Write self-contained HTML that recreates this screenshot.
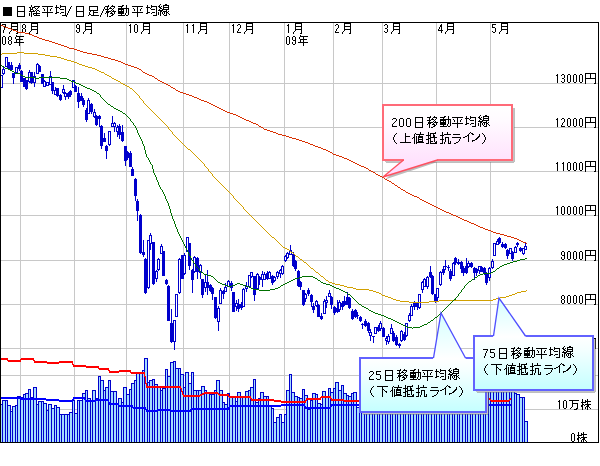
<!DOCTYPE html>
<html><head><meta charset="utf-8"><style>html,body{margin:0;padding:0;background:#fff;width:600px;height:466px;overflow:hidden;font-family:"Liberation Sans",sans-serif}svg{display:block}</style></head>
<body><svg width="600" height="466" viewBox="0 0 600 466" shape-rendering="crispEdges">
<defs>
<linearGradient id="gp" x1="0" y1="0" x2="0" y2="1"><stop offset="0" stop-color="#ffffff"/><stop offset="0.22" stop-color="#fffaff"/><stop offset="1" stop-color="#ffd8fc"/></linearGradient>
<linearGradient id="gb" x1="0" y1="0" x2="0" y2="1"><stop offset="0" stop-color="#ffffff"/><stop offset="0.25" stop-color="#f4ffff"/><stop offset="1" stop-color="#c4ffff"/></linearGradient>
<linearGradient id="gt" x1="0" y1="0" x2="0" y2="1"><stop offset="0" stop-color="#d4ffff"/><stop offset="1" stop-color="#ffffff"/></linearGradient>
</defs>
<rect width="600" height="466" fill="#fff"/>
<path fill="#c8c8c8" d="M20 23h1v419h-1zM74 23h1v419h-1zM126 23h1v419h-1zM183 23h1v419h-1zM229 23h1v419h-1zM284 23h1v419h-1zM333 23h1v419h-1zM382 23h1v419h-1zM436 23h1v419h-1zM490 23h1v419h-1zM1 83h597v1h-597zM1 127h597v1h-597zM1 171h597v1h-597zM1 215h597v1h-597zM1 260h597v1h-597zM1 304h597v1h-597zM1 348h597v1h-597zM1 375h597v1h-597zM1 409h597v1h-597z"/><path fill="#000" d="M11 23h7v1h-7zM31 23h7v1h-7zM85 23h7v1h-7zM143 23h7v1h-7zM200 23h7v1h-7zM246 23h7v1h-7zM295 23h7v1h-7zM344 23h7v1h-7zM393 23h7v1h-7zM447 23h7v1h-7zM501 23h7v1h-7zM2 24h4v1h-4zM11 24h1v1h-1zM17 24h1v1h-1zM23 24h2v1h-2zM31 24h1v1h-1zM37 24h1v1h-1zM77 24h2v1h-2zM85 24h1v1h-1zM91 24h1v1h-1zM130 24h1v1h-1zM135 24h2v1h-2zM143 24h1v1h-1zM149 24h1v1h-1zM187 24h1v1h-1zM193 24h1v1h-1zM200 24h1v1h-1zM206 24h1v1h-1zM233 24h1v1h-1zM238 24h2v1h-2zM246 24h1v1h-1zM252 24h1v1h-1zM288 24h1v1h-1zM295 24h1v1h-1zM301 24h1v1h-1zM336 24h2v1h-2zM344 24h1v1h-1zM350 24h1v1h-1zM385 24h2v1h-2zM393 24h1v1h-1zM399 24h1v1h-1zM441 24h1v1h-1zM447 24h1v1h-1zM453 24h1v1h-1zM492 24h4v1h-4zM501 24h1v1h-1zM507 24h1v1h-1zM5 25h1v1h-1zM11 25h1v1h-1zM17 25h1v1h-1zM22 25h1v1h-1zM25 25h1v1h-1zM31 25h1v1h-1zM37 25h1v1h-1zM76 25h1v1h-1zM79 25h1v1h-1zM85 25h1v1h-1zM91 25h1v1h-1zM129 25h2v1h-2zM134 25h1v1h-1zM137 25h1v1h-1zM143 25h1v1h-1zM149 25h1v1h-1zM186 25h2v1h-2zM192 25h2v1h-2zM200 25h1v1h-1zM206 25h1v1h-1zM232 25h2v1h-2zM237 25h1v1h-1zM240 25h1v1h-1zM246 25h1v1h-1zM252 25h1v1h-1zM287 25h2v1h-2zM295 25h1v1h-1zM301 25h1v1h-1zM335 25h1v1h-1zM338 25h1v1h-1zM344 25h1v1h-1zM350 25h1v1h-1zM384 25h1v1h-1zM387 25h1v1h-1zM393 25h1v1h-1zM399 25h1v1h-1zM440 25h2v1h-2zM447 25h1v1h-1zM453 25h1v1h-1zM492 25h1v1h-1zM501 25h1v1h-1zM507 25h1v1h-1zM5 26h1v1h-1zM11 26h7v1h-7zM22 26h1v1h-1zM25 26h1v1h-1zM31 26h7v1h-7zM76 26h1v1h-1zM79 26h1v1h-1zM85 26h7v1h-7zM130 26h1v1h-1zM134 26h1v1h-1zM137 26h1v1h-1zM143 26h7v1h-7zM187 26h1v1h-1zM193 26h1v1h-1zM200 26h7v1h-7zM233 26h1v1h-1zM240 26h1v1h-1zM246 26h7v1h-7zM288 26h1v1h-1zM295 26h7v1h-7zM338 26h1v1h-1zM344 26h7v1h-7zM387 26h1v1h-1zM393 26h7v1h-7zM440 26h2v1h-2zM447 26h7v1h-7zM492 26h1v1h-1zM501 26h7v1h-7zM4 27h1v1h-1zM11 27h1v1h-1zM17 27h1v1h-1zM22 27h1v1h-1zM25 27h1v1h-1zM31 27h1v1h-1zM37 27h1v1h-1zM76 27h1v1h-1zM79 27h1v1h-1zM85 27h1v1h-1zM91 27h1v1h-1zM130 27h1v1h-1zM134 27h1v1h-1zM137 27h1v1h-1zM143 27h1v1h-1zM149 27h1v1h-1zM187 27h1v1h-1zM193 27h1v1h-1zM200 27h1v1h-1zM206 27h1v1h-1zM233 27h1v1h-1zM240 27h1v1h-1zM246 27h1v1h-1zM252 27h1v1h-1zM288 27h1v1h-1zM295 27h1v1h-1zM301 27h1v1h-1zM338 27h1v1h-1zM344 27h1v1h-1zM350 27h1v1h-1zM387 27h1v1h-1zM393 27h1v1h-1zM399 27h1v1h-1zM439 27h1v1h-1zM441 27h1v1h-1zM447 27h1v1h-1zM453 27h1v1h-1zM492 27h3v1h-3zM501 27h1v1h-1zM507 27h1v1h-1zM4 28h1v1h-1zM11 28h1v1h-1zM17 28h1v1h-1zM23 28h2v1h-2zM31 28h1v1h-1zM37 28h1v1h-1zM77 28h3v1h-3zM85 28h1v1h-1zM91 28h1v1h-1zM130 28h1v1h-1zM134 28h1v1h-1zM137 28h1v1h-1zM143 28h1v1h-1zM149 28h1v1h-1zM187 28h1v1h-1zM193 28h1v1h-1zM200 28h1v1h-1zM206 28h1v1h-1zM233 28h1v1h-1zM239 28h1v1h-1zM246 28h1v1h-1zM252 28h1v1h-1zM288 28h1v1h-1zM295 28h1v1h-1zM301 28h1v1h-1zM337 28h1v1h-1zM344 28h1v1h-1zM350 28h1v1h-1zM385 28h2v1h-2zM393 28h1v1h-1zM399 28h1v1h-1zM439 28h1v1h-1zM441 28h1v1h-1zM447 28h1v1h-1zM453 28h1v1h-1zM495 28h1v1h-1zM501 28h1v1h-1zM507 28h1v1h-1zM4 29h1v1h-1zM11 29h7v1h-7zM22 29h1v1h-1zM25 29h1v1h-1zM31 29h7v1h-7zM79 29h1v1h-1zM85 29h7v1h-7zM130 29h1v1h-1zM134 29h1v1h-1zM137 29h1v1h-1zM143 29h7v1h-7zM187 29h1v1h-1zM193 29h1v1h-1zM200 29h7v1h-7zM233 29h1v1h-1zM238 29h1v1h-1zM246 29h7v1h-7zM288 29h1v1h-1zM295 29h7v1h-7zM336 29h1v1h-1zM344 29h7v1h-7zM387 29h1v1h-1zM393 29h7v1h-7zM438 29h1v1h-1zM441 29h1v1h-1zM447 29h7v1h-7zM495 29h1v1h-1zM501 29h7v1h-7zM3 30h1v1h-1zM11 30h1v1h-1zM17 30h1v1h-1zM22 30h1v1h-1zM25 30h1v1h-1zM31 30h1v1h-1zM37 30h1v1h-1zM76 30h1v1h-1zM79 30h1v1h-1zM85 30h1v1h-1zM91 30h1v1h-1zM130 30h1v1h-1zM134 30h1v1h-1zM137 30h1v1h-1zM143 30h1v1h-1zM149 30h1v1h-1zM187 30h1v1h-1zM193 30h1v1h-1zM200 30h1v1h-1zM206 30h1v1h-1zM233 30h1v1h-1zM238 30h1v1h-1zM246 30h1v1h-1zM252 30h1v1h-1zM288 30h1v1h-1zM295 30h1v1h-1zM301 30h1v1h-1zM336 30h1v1h-1zM344 30h1v1h-1zM350 30h1v1h-1zM387 30h1v1h-1zM393 30h1v1h-1zM399 30h1v1h-1zM438 30h5v1h-5zM447 30h1v1h-1zM453 30h1v1h-1zM495 30h1v1h-1zM501 30h1v1h-1zM507 30h1v1h-1zM3 31h1v1h-1zM10 31h1v1h-1zM17 31h1v1h-1zM22 31h1v1h-1zM25 31h1v1h-1zM30 31h1v1h-1zM37 31h1v1h-1zM76 31h1v1h-1zM79 31h1v1h-1zM84 31h1v1h-1zM91 31h1v1h-1zM130 31h1v1h-1zM134 31h1v1h-1zM137 31h1v1h-1zM142 31h1v1h-1zM149 31h1v1h-1zM187 31h1v1h-1zM193 31h1v1h-1zM199 31h1v1h-1zM206 31h1v1h-1zM233 31h1v1h-1zM237 31h1v1h-1zM245 31h1v1h-1zM252 31h1v1h-1zM288 31h1v1h-1zM294 31h1v1h-1zM301 31h1v1h-1zM335 31h1v1h-1zM343 31h1v1h-1zM350 31h1v1h-1zM384 31h1v1h-1zM387 31h1v1h-1zM392 31h1v1h-1zM399 31h1v1h-1zM441 31h1v1h-1zM446 31h1v1h-1zM453 31h1v1h-1zM492 31h1v1h-1zM495 31h1v1h-1zM500 31h1v1h-1zM507 31h1v1h-1zM3 32h1v1h-1zM9 32h1v1h-1zM17 32h1v1h-1zM23 32h2v1h-2zM29 32h1v1h-1zM37 32h1v1h-1zM77 32h2v1h-2zM83 32h1v1h-1zM91 32h1v1h-1zM130 32h1v1h-1zM135 32h2v1h-2zM141 32h1v1h-1zM149 32h1v1h-1zM187 32h1v1h-1zM193 32h1v1h-1zM198 32h1v1h-1zM206 32h1v1h-1zM233 32h1v1h-1zM237 32h4v1h-4zM244 32h1v1h-1zM252 32h1v1h-1zM288 32h1v1h-1zM293 32h1v1h-1zM301 32h1v1h-1zM335 32h4v1h-4zM342 32h1v1h-1zM350 32h1v1h-1zM385 32h2v1h-2zM391 32h1v1h-1zM399 32h1v1h-1zM441 32h1v1h-1zM445 32h1v1h-1zM453 32h1v1h-1zM493 32h2v1h-2zM499 32h1v1h-1zM507 32h1v1h-1zM9 33h1v1h-1zM16 33h2v1h-2zM29 33h1v1h-1zM36 33h2v1h-2zM83 33h1v1h-1zM90 33h2v1h-2zM141 33h1v1h-1zM148 33h2v1h-2zM198 33h1v1h-1zM205 33h2v1h-2zM244 33h1v1h-1zM251 33h2v1h-2zM293 33h1v1h-1zM300 33h2v1h-2zM342 33h1v1h-1zM349 33h2v1h-2zM391 33h1v1h-1zM398 33h2v1h-2zM445 33h1v1h-1zM452 33h2v1h-2zM499 33h1v1h-1zM506 33h2v1h-2zM16 35h1v1h-1zM300 35h1v1h-1zM3 36h2v1h-2zM9 36h2v1h-2zM16 36h8v1h-8zM287 36h2v1h-2zM293 36h2v1h-2zM300 36h8v1h-8zM2 37h1v1h-1zM5 37h1v1h-1zM8 37h1v1h-1zM11 37h1v1h-1zM15 37h1v1h-1zM19 37h1v1h-1zM286 37h1v1h-1zM289 37h1v1h-1zM292 37h1v1h-1zM295 37h1v1h-1zM299 37h1v1h-1zM303 37h1v1h-1zM2 38h1v1h-1zM5 38h1v1h-1zM8 38h1v1h-1zM11 38h1v1h-1zM15 38h1v1h-1zM19 38h1v1h-1zM286 38h1v1h-1zM289 38h1v1h-1zM292 38h1v1h-1zM295 38h1v1h-1zM299 38h1v1h-1zM303 38h1v1h-1zM2 39h1v1h-1zM5 39h1v1h-1zM8 39h1v1h-1zM11 39h1v1h-1zM16 39h7v1h-7zM286 39h1v1h-1zM289 39h1v1h-1zM292 39h1v1h-1zM295 39h1v1h-1zM300 39h7v1h-7zM2 40h1v1h-1zM5 40h1v1h-1zM9 40h2v1h-2zM16 40h1v1h-1zM19 40h1v1h-1zM286 40h1v1h-1zM289 40h1v1h-1zM293 40h3v1h-3zM300 40h1v1h-1zM303 40h1v1h-1zM2 41h1v1h-1zM5 41h1v1h-1zM8 41h1v1h-1zM11 41h1v1h-1zM16 41h1v1h-1zM19 41h1v1h-1zM286 41h1v1h-1zM289 41h1v1h-1zM295 41h1v1h-1zM300 41h1v1h-1zM303 41h1v1h-1zM2 42h1v1h-1zM5 42h1v1h-1zM8 42h1v1h-1zM11 42h1v1h-1zM14 42h10v1h-10zM286 42h1v1h-1zM289 42h1v1h-1zM292 42h1v1h-1zM295 42h1v1h-1zM298 42h10v1h-10zM2 43h1v1h-1zM5 43h1v1h-1zM8 43h1v1h-1zM11 43h1v1h-1zM19 43h1v1h-1zM286 43h1v1h-1zM289 43h1v1h-1zM292 43h1v1h-1zM295 43h1v1h-1zM303 43h1v1h-1zM3 44h2v1h-2zM9 44h2v1h-2zM19 44h1v1h-1zM287 44h2v1h-2zM293 44h2v1h-2zM303 44h1v1h-1zM19 45h1v1h-1zM303 45h1v1h-1zM585 73h11v1h-11zM557 74h1v1h-1zM562 74h2v1h-2zM568 74h2v1h-2zM574 74h2v1h-2zM580 74h2v1h-2zM585 74h1v1h-1zM590 74h1v1h-1zM595 74h1v1h-1zM556 75h2v1h-2zM561 75h1v1h-1zM564 75h1v1h-1zM567 75h1v1h-1zM570 75h1v1h-1zM573 75h1v1h-1zM576 75h1v1h-1zM579 75h1v1h-1zM582 75h1v1h-1zM585 75h1v1h-1zM590 75h1v1h-1zM595 75h1v1h-1zM557 76h1v1h-1zM564 76h1v1h-1zM567 76h1v1h-1zM570 76h1v1h-1zM573 76h1v1h-1zM576 76h1v1h-1zM579 76h1v1h-1zM582 76h1v1h-1zM585 76h1v1h-1zM590 76h1v1h-1zM595 76h1v1h-1zM557 77h1v1h-1zM564 77h1v1h-1zM567 77h1v1h-1zM570 77h1v1h-1zM573 77h1v1h-1zM576 77h1v1h-1zM579 77h1v1h-1zM582 77h1v1h-1zM585 77h1v1h-1zM590 77h1v1h-1zM595 77h1v1h-1zM557 78h1v1h-1zM562 78h2v1h-2zM567 78h1v1h-1zM570 78h1v1h-1zM573 78h1v1h-1zM576 78h1v1h-1zM579 78h1v1h-1zM582 78h1v1h-1zM585 78h11v1h-11zM557 79h1v1h-1zM564 79h1v1h-1zM567 79h1v1h-1zM570 79h1v1h-1zM573 79h1v1h-1zM576 79h1v1h-1zM579 79h1v1h-1zM582 79h1v1h-1zM585 79h1v1h-1zM595 79h1v1h-1zM557 80h1v1h-1zM564 80h1v1h-1zM567 80h1v1h-1zM570 80h1v1h-1zM573 80h1v1h-1zM576 80h1v1h-1zM579 80h1v1h-1zM582 80h1v1h-1zM585 80h1v1h-1zM595 80h1v1h-1zM557 81h1v1h-1zM561 81h1v1h-1zM564 81h1v1h-1zM567 81h1v1h-1zM570 81h1v1h-1zM573 81h1v1h-1zM576 81h1v1h-1zM579 81h1v1h-1zM582 81h1v1h-1zM585 81h1v1h-1zM595 81h1v1h-1zM557 82h1v1h-1zM562 82h2v1h-2zM568 82h2v1h-2zM574 82h2v1h-2zM580 82h2v1h-2zM585 82h1v1h-1zM595 82h1v1h-1zM585 83h1v1h-1zM594 83h2v1h-2zM585 117h11v1h-11zM557 118h1v1h-1zM562 118h2v1h-2zM568 118h2v1h-2zM574 118h2v1h-2zM580 118h2v1h-2zM585 118h1v1h-1zM590 118h1v1h-1zM595 118h1v1h-1zM556 119h2v1h-2zM561 119h1v1h-1zM564 119h1v1h-1zM567 119h1v1h-1zM570 119h1v1h-1zM573 119h1v1h-1zM576 119h1v1h-1zM579 119h1v1h-1zM582 119h1v1h-1zM585 119h1v1h-1zM590 119h1v1h-1zM595 119h1v1h-1zM557 120h1v1h-1zM564 120h1v1h-1zM567 120h1v1h-1zM570 120h1v1h-1zM573 120h1v1h-1zM576 120h1v1h-1zM579 120h1v1h-1zM582 120h1v1h-1zM585 120h1v1h-1zM590 120h1v1h-1zM595 120h1v1h-1zM557 121h1v1h-1zM564 121h1v1h-1zM567 121h1v1h-1zM570 121h1v1h-1zM573 121h1v1h-1zM576 121h1v1h-1zM579 121h1v1h-1zM582 121h1v1h-1zM585 121h1v1h-1zM590 121h1v1h-1zM595 121h1v1h-1zM557 122h1v1h-1zM563 122h1v1h-1zM567 122h1v1h-1zM570 122h1v1h-1zM573 122h1v1h-1zM576 122h1v1h-1zM579 122h1v1h-1zM582 122h1v1h-1zM585 122h11v1h-11zM557 123h1v1h-1zM562 123h1v1h-1zM567 123h1v1h-1zM570 123h1v1h-1zM573 123h1v1h-1zM576 123h1v1h-1zM579 123h1v1h-1zM582 123h1v1h-1zM585 123h1v1h-1zM595 123h1v1h-1zM557 124h1v1h-1zM562 124h1v1h-1zM567 124h1v1h-1zM570 124h1v1h-1zM573 124h1v1h-1zM576 124h1v1h-1zM579 124h1v1h-1zM582 124h1v1h-1zM585 124h1v1h-1zM595 124h1v1h-1zM557 125h1v1h-1zM561 125h1v1h-1zM567 125h1v1h-1zM570 125h1v1h-1zM573 125h1v1h-1zM576 125h1v1h-1zM579 125h1v1h-1zM582 125h1v1h-1zM585 125h1v1h-1zM595 125h1v1h-1zM557 126h1v1h-1zM561 126h4v1h-4zM568 126h2v1h-2zM574 126h2v1h-2zM580 126h2v1h-2zM585 126h1v1h-1zM595 126h1v1h-1zM585 127h1v1h-1zM594 127h2v1h-2zM585 161h11v1h-11zM557 162h1v1h-1zM563 162h1v1h-1zM568 162h2v1h-2zM574 162h2v1h-2zM580 162h2v1h-2zM585 162h1v1h-1zM590 162h1v1h-1zM595 162h1v1h-1zM556 163h2v1h-2zM562 163h2v1h-2zM567 163h1v1h-1zM570 163h1v1h-1zM573 163h1v1h-1zM576 163h1v1h-1zM579 163h1v1h-1zM582 163h1v1h-1zM585 163h1v1h-1zM590 163h1v1h-1zM595 163h1v1h-1zM557 164h1v1h-1zM563 164h1v1h-1zM567 164h1v1h-1zM570 164h1v1h-1zM573 164h1v1h-1zM576 164h1v1h-1zM579 164h1v1h-1zM582 164h1v1h-1zM585 164h1v1h-1zM590 164h1v1h-1zM595 164h1v1h-1zM557 165h1v1h-1zM563 165h1v1h-1zM567 165h1v1h-1zM570 165h1v1h-1zM573 165h1v1h-1zM576 165h1v1h-1zM579 165h1v1h-1zM582 165h1v1h-1zM585 165h1v1h-1zM590 165h1v1h-1zM595 165h1v1h-1zM557 166h1v1h-1zM563 166h1v1h-1zM567 166h1v1h-1zM570 166h1v1h-1zM573 166h1v1h-1zM576 166h1v1h-1zM579 166h1v1h-1zM582 166h1v1h-1zM585 166h11v1h-11zM557 167h1v1h-1zM563 167h1v1h-1zM567 167h1v1h-1zM570 167h1v1h-1zM573 167h1v1h-1zM576 167h1v1h-1zM579 167h1v1h-1zM582 167h1v1h-1zM585 167h1v1h-1zM595 167h1v1h-1zM557 168h1v1h-1zM563 168h1v1h-1zM567 168h1v1h-1zM570 168h1v1h-1zM573 168h1v1h-1zM576 168h1v1h-1zM579 168h1v1h-1zM582 168h1v1h-1zM585 168h1v1h-1zM595 168h1v1h-1zM557 169h1v1h-1zM563 169h1v1h-1zM567 169h1v1h-1zM570 169h1v1h-1zM573 169h1v1h-1zM576 169h1v1h-1zM579 169h1v1h-1zM582 169h1v1h-1zM585 169h1v1h-1zM595 169h1v1h-1zM557 170h1v1h-1zM563 170h1v1h-1zM568 170h2v1h-2zM574 170h2v1h-2zM580 170h2v1h-2zM585 170h1v1h-1zM595 170h1v1h-1zM585 171h1v1h-1zM594 171h2v1h-2zM585 205h11v1h-11zM557 206h1v1h-1zM562 206h2v1h-2zM568 206h2v1h-2zM574 206h2v1h-2zM580 206h2v1h-2zM585 206h1v1h-1zM590 206h1v1h-1zM595 206h1v1h-1zM556 207h2v1h-2zM561 207h1v1h-1zM564 207h1v1h-1zM567 207h1v1h-1zM570 207h1v1h-1zM573 207h1v1h-1zM576 207h1v1h-1zM579 207h1v1h-1zM582 207h1v1h-1zM585 207h1v1h-1zM590 207h1v1h-1zM595 207h1v1h-1zM557 208h1v1h-1zM561 208h1v1h-1zM564 208h1v1h-1zM567 208h1v1h-1zM570 208h1v1h-1zM573 208h1v1h-1zM576 208h1v1h-1zM579 208h1v1h-1zM582 208h1v1h-1zM585 208h1v1h-1zM590 208h1v1h-1zM595 208h1v1h-1zM557 209h1v1h-1zM561 209h1v1h-1zM564 209h1v1h-1zM567 209h1v1h-1zM570 209h1v1h-1zM573 209h1v1h-1zM576 209h1v1h-1zM579 209h1v1h-1zM582 209h1v1h-1zM585 209h1v1h-1zM590 209h1v1h-1zM595 209h1v1h-1zM557 210h1v1h-1zM561 210h1v1h-1zM564 210h1v1h-1zM567 210h1v1h-1zM570 210h1v1h-1zM573 210h1v1h-1zM576 210h1v1h-1zM579 210h1v1h-1zM582 210h1v1h-1zM585 210h11v1h-11zM557 211h1v1h-1zM561 211h1v1h-1zM564 211h1v1h-1zM567 211h1v1h-1zM570 211h1v1h-1zM573 211h1v1h-1zM576 211h1v1h-1zM579 211h1v1h-1zM582 211h1v1h-1zM585 211h1v1h-1zM595 211h1v1h-1zM557 212h1v1h-1zM561 212h1v1h-1zM564 212h1v1h-1zM567 212h1v1h-1zM570 212h1v1h-1zM573 212h1v1h-1zM576 212h1v1h-1zM579 212h1v1h-1zM582 212h1v1h-1zM585 212h1v1h-1zM595 212h1v1h-1zM557 213h1v1h-1zM561 213h1v1h-1zM564 213h1v1h-1zM567 213h1v1h-1zM570 213h1v1h-1zM573 213h1v1h-1zM576 213h1v1h-1zM579 213h1v1h-1zM582 213h1v1h-1zM585 213h1v1h-1zM595 213h1v1h-1zM557 214h1v1h-1zM562 214h2v1h-2zM568 214h2v1h-2zM574 214h2v1h-2zM580 214h2v1h-2zM585 214h1v1h-1zM595 214h1v1h-1zM585 215h1v1h-1zM594 215h2v1h-2zM585 250h11v1h-11zM562 251h2v1h-2zM568 251h2v1h-2zM574 251h2v1h-2zM580 251h2v1h-2zM585 251h1v1h-1zM590 251h1v1h-1zM595 251h1v1h-1zM561 252h1v1h-1zM564 252h1v1h-1zM567 252h1v1h-1zM570 252h1v1h-1zM573 252h1v1h-1zM576 252h1v1h-1zM579 252h1v1h-1zM582 252h1v1h-1zM585 252h1v1h-1zM590 252h1v1h-1zM595 252h1v1h-1zM561 253h1v1h-1zM564 253h1v1h-1zM567 253h1v1h-1zM570 253h1v1h-1zM573 253h1v1h-1zM576 253h1v1h-1zM579 253h1v1h-1zM582 253h1v1h-1zM585 253h1v1h-1zM590 253h1v1h-1zM595 253h1v1h-1zM561 254h1v1h-1zM564 254h1v1h-1zM567 254h1v1h-1zM570 254h1v1h-1zM573 254h1v1h-1zM576 254h1v1h-1zM579 254h1v1h-1zM582 254h1v1h-1zM585 254h1v1h-1zM590 254h1v1h-1zM595 254h1v1h-1zM562 255h3v1h-3zM567 255h1v1h-1zM570 255h1v1h-1zM573 255h1v1h-1zM576 255h1v1h-1zM579 255h1v1h-1zM582 255h1v1h-1zM585 255h11v1h-11zM564 256h1v1h-1zM567 256h1v1h-1zM570 256h1v1h-1zM573 256h1v1h-1zM576 256h1v1h-1zM579 256h1v1h-1zM582 256h1v1h-1zM585 256h1v1h-1zM595 256h1v1h-1zM561 257h1v1h-1zM564 257h1v1h-1zM567 257h1v1h-1zM570 257h1v1h-1zM573 257h1v1h-1zM576 257h1v1h-1zM579 257h1v1h-1zM582 257h1v1h-1zM585 257h1v1h-1zM595 257h1v1h-1zM561 258h1v1h-1zM564 258h1v1h-1zM567 258h1v1h-1zM570 258h1v1h-1zM573 258h1v1h-1zM576 258h1v1h-1zM579 258h1v1h-1zM582 258h1v1h-1zM585 258h1v1h-1zM595 258h1v1h-1zM562 259h2v1h-2zM568 259h2v1h-2zM574 259h2v1h-2zM580 259h2v1h-2zM585 259h1v1h-1zM595 259h1v1h-1zM585 260h1v1h-1zM594 260h2v1h-2zM585 294h11v1h-11zM562 295h2v1h-2zM568 295h2v1h-2zM574 295h2v1h-2zM580 295h2v1h-2zM585 295h1v1h-1zM590 295h1v1h-1zM595 295h1v1h-1zM561 296h1v1h-1zM564 296h1v1h-1zM567 296h1v1h-1zM570 296h1v1h-1zM573 296h1v1h-1zM576 296h1v1h-1zM579 296h1v1h-1zM582 296h1v1h-1zM585 296h1v1h-1zM590 296h1v1h-1zM595 296h1v1h-1zM561 297h1v1h-1zM564 297h1v1h-1zM567 297h1v1h-1zM570 297h1v1h-1zM573 297h1v1h-1zM576 297h1v1h-1zM579 297h1v1h-1zM582 297h1v1h-1zM585 297h1v1h-1zM590 297h1v1h-1zM595 297h1v1h-1zM561 298h1v1h-1zM564 298h1v1h-1zM567 298h1v1h-1zM570 298h1v1h-1zM573 298h1v1h-1zM576 298h1v1h-1zM579 298h1v1h-1zM582 298h1v1h-1zM585 298h1v1h-1zM590 298h1v1h-1zM595 298h1v1h-1zM562 299h2v1h-2zM567 299h1v1h-1zM570 299h1v1h-1zM573 299h1v1h-1zM576 299h1v1h-1zM579 299h1v1h-1zM582 299h1v1h-1zM585 299h11v1h-11zM561 300h1v1h-1zM564 300h1v1h-1zM567 300h1v1h-1zM570 300h1v1h-1zM573 300h1v1h-1zM576 300h1v1h-1zM579 300h1v1h-1zM582 300h1v1h-1zM585 300h1v1h-1zM595 300h1v1h-1zM561 301h1v1h-1zM564 301h1v1h-1zM567 301h1v1h-1zM570 301h1v1h-1zM573 301h1v1h-1zM576 301h1v1h-1zM579 301h1v1h-1zM582 301h1v1h-1zM585 301h1v1h-1zM595 301h1v1h-1zM561 302h1v1h-1zM564 302h1v1h-1zM567 302h1v1h-1zM570 302h1v1h-1zM573 302h1v1h-1zM576 302h1v1h-1zM579 302h1v1h-1zM582 302h1v1h-1zM585 302h1v1h-1zM595 302h1v1h-1zM562 303h2v1h-2zM568 303h2v1h-2zM574 303h2v1h-2zM580 303h2v1h-2zM585 303h1v1h-1zM595 303h1v1h-1zM585 304h1v1h-1zM594 304h2v1h-2zM585 338h11v1h-11zM561 339h4v1h-4zM568 339h2v1h-2zM574 339h2v1h-2zM580 339h2v1h-2zM585 339h1v1h-1zM590 339h1v1h-1zM595 339h1v1h-1zM564 340h1v1h-1zM567 340h1v1h-1zM570 340h1v1h-1zM573 340h1v1h-1zM576 340h1v1h-1zM579 340h1v1h-1zM582 340h1v1h-1zM585 340h1v1h-1zM590 340h1v1h-1zM595 340h1v1h-1zM564 341h1v1h-1zM567 341h1v1h-1zM570 341h1v1h-1zM573 341h1v1h-1zM576 341h1v1h-1zM579 341h1v1h-1zM582 341h1v1h-1zM585 341h1v1h-1zM590 341h1v1h-1zM595 341h1v1h-1zM563 342h1v1h-1zM567 342h1v1h-1zM570 342h1v1h-1zM573 342h1v1h-1zM576 342h1v1h-1zM579 342h1v1h-1zM582 342h1v1h-1zM585 342h1v1h-1zM590 342h1v1h-1zM595 342h1v1h-1zM563 343h1v1h-1zM567 343h1v1h-1zM570 343h1v1h-1zM573 343h1v1h-1zM576 343h1v1h-1zM579 343h1v1h-1zM582 343h1v1h-1zM585 343h11v1h-11zM563 344h1v1h-1zM567 344h1v1h-1zM570 344h1v1h-1zM573 344h1v1h-1zM576 344h1v1h-1zM579 344h1v1h-1zM582 344h1v1h-1zM585 344h1v1h-1zM595 344h1v1h-1zM562 345h1v1h-1zM567 345h1v1h-1zM570 345h1v1h-1zM573 345h1v1h-1zM576 345h1v1h-1zM579 345h1v1h-1zM582 345h1v1h-1zM585 345h1v1h-1zM595 345h1v1h-1zM562 346h1v1h-1zM567 346h1v1h-1zM570 346h1v1h-1zM573 346h1v1h-1zM576 346h1v1h-1zM579 346h1v1h-1zM582 346h1v1h-1zM585 346h1v1h-1zM595 346h1v1h-1zM562 347h1v1h-1zM568 347h2v1h-2zM574 347h2v1h-2zM580 347h2v1h-2zM585 347h1v1h-1zM595 347h1v1h-1zM585 348h1v1h-1zM594 348h2v1h-2zM582 365h1v1h-1zM587 365h1v1h-1zM558 366h2v1h-2zM564 366h2v1h-2zM569 366h10v1h-10zM582 366h1v1h-1zM585 366h1v1h-1zM587 366h1v1h-1zM557 367h1v1h-1zM560 367h1v1h-1zM563 367h1v1h-1zM566 367h1v1h-1zM572 367h1v1h-1zM582 367h1v1h-1zM585 367h6v1h-6zM560 368h1v1h-1zM563 368h1v1h-1zM566 368h1v1h-1zM572 368h1v1h-1zM581 368h5v1h-5zM587 368h1v1h-1zM560 369h1v1h-1zM563 369h1v1h-1zM566 369h1v1h-1zM572 369h6v1h-6zM582 369h1v1h-1zM587 369h1v1h-1zM559 370h1v1h-1zM563 370h1v1h-1zM566 370h1v1h-1zM572 370h1v1h-1zM577 370h1v1h-1zM582 370h2v1h-2zM585 370h6v1h-6zM558 371h1v1h-1zM563 371h1v1h-1zM566 371h1v1h-1zM572 371h1v1h-1zM577 371h1v1h-1zM581 371h2v1h-2zM584 371h1v1h-1zM587 371h2v1h-2zM558 372h1v1h-1zM563 372h1v1h-1zM566 372h1v1h-1zM572 372h1v1h-1zM577 372h1v1h-1zM581 372h2v1h-2zM586 372h3v1h-3zM557 373h1v1h-1zM563 373h1v1h-1zM566 373h1v1h-1zM571 373h1v1h-1zM577 373h1v1h-1zM582 373h1v1h-1zM585 373h1v1h-1zM587 373h1v1h-1zM589 373h1v1h-1zM557 374h4v1h-4zM564 374h2v1h-2zM570 374h1v1h-1zM576 374h2v1h-2zM582 374h1v1h-1zM585 374h1v1h-1zM587 374h1v1h-1zM590 374h1v1h-1zM574 375h3v1h-3zM582 375h1v1h-1zM587 375h1v1h-1zM582 399h1v1h-1zM587 399h1v1h-1zM559 400h1v1h-1zM564 400h2v1h-2zM569 400h10v1h-10zM582 400h1v1h-1zM585 400h1v1h-1zM587 400h1v1h-1zM558 401h2v1h-2zM563 401h1v1h-1zM566 401h1v1h-1zM572 401h1v1h-1zM582 401h1v1h-1zM585 401h6v1h-6zM559 402h1v1h-1zM563 402h1v1h-1zM566 402h1v1h-1zM572 402h1v1h-1zM581 402h5v1h-5zM587 402h1v1h-1zM559 403h1v1h-1zM563 403h1v1h-1zM566 403h1v1h-1zM572 403h6v1h-6zM582 403h1v1h-1zM587 403h1v1h-1zM559 404h1v1h-1zM563 404h1v1h-1zM566 404h1v1h-1zM572 404h1v1h-1zM577 404h1v1h-1zM582 404h2v1h-2zM585 404h6v1h-6zM559 405h1v1h-1zM563 405h1v1h-1zM566 405h1v1h-1zM572 405h1v1h-1zM577 405h1v1h-1zM581 405h2v1h-2zM584 405h1v1h-1zM587 405h2v1h-2zM559 406h1v1h-1zM563 406h1v1h-1zM566 406h1v1h-1zM572 406h1v1h-1zM577 406h1v1h-1zM581 406h2v1h-2zM586 406h3v1h-3zM559 407h1v1h-1zM563 407h1v1h-1zM566 407h1v1h-1zM571 407h1v1h-1zM577 407h1v1h-1zM582 407h1v1h-1zM585 407h1v1h-1zM587 407h1v1h-1zM589 407h1v1h-1zM559 408h1v1h-1zM564 408h2v1h-2zM570 408h1v1h-1zM576 408h2v1h-2zM582 408h1v1h-1zM585 408h1v1h-1zM587 408h1v1h-1zM590 408h1v1h-1zM574 409h3v1h-3zM582 409h1v1h-1zM587 409h1v1h-1zM578 432h1v1h-1zM583 432h1v1h-1zM572 433h2v1h-2zM578 433h1v1h-1zM581 433h1v1h-1zM583 433h1v1h-1zM571 434h1v1h-1zM574 434h1v1h-1zM578 434h1v1h-1zM581 434h6v1h-6zM571 435h1v1h-1zM574 435h1v1h-1zM577 435h5v1h-5zM583 435h1v1h-1zM571 436h1v1h-1zM574 436h1v1h-1zM578 436h1v1h-1zM583 436h1v1h-1zM571 437h1v1h-1zM574 437h1v1h-1zM578 437h2v1h-2zM581 437h6v1h-6zM571 438h1v1h-1zM574 438h1v1h-1zM577 438h2v1h-2zM580 438h1v1h-1zM583 438h2v1h-2zM571 439h1v1h-1zM574 439h1v1h-1zM577 439h2v1h-2zM582 439h3v1h-3zM571 440h1v1h-1zM574 440h1v1h-1zM578 440h1v1h-1zM581 440h1v1h-1zM583 440h1v1h-1zM585 440h1v1h-1zM572 441h2v1h-2zM578 441h1v1h-1zM581 441h1v1h-1zM583 441h1v1h-1zM586 441h1v1h-1zM578 442h1v1h-1zM583 442h1v1h-1z"/><path fill="#a6dcff" d="M1 404H3V442H1ZM2 400H6V442H2ZM5 400H8V442H5ZM7 405H11V442H7ZM10 411H13V442H10ZM12 406H16V442H12ZM15 405H18V442H15ZM17 396H21V442H17ZM20 397H24V442H20ZM23 394H26V442H23ZM25 393H29V442H25ZM28 389H31V442H28ZM30 397H34V442H30ZM33 387H37V442H33ZM36 404H39V442H36ZM38 401H42V442H38ZM41 401H44V442H41ZM43 403H47V442H43ZM46 410H49V442H46ZM48 404H52V442H48ZM51 408H55V442H51ZM54 405H57V442H54ZM56 407H60V442H56ZM59 414H62V442H59ZM61 414H65V442H61ZM64 414H68V442H64ZM67 414H70V442H67ZM69 412H73V442H69ZM72 400H75V442H72ZM74 413H78V442H74ZM77 400H80V442H77ZM79 400H83V442H79ZM82 393H86V442H82ZM85 390H88V442H85ZM87 398H91V442H87ZM90 400H93V442H90ZM92 390H96V442H92ZM95 398H99V442H95ZM98 376H101V442H98ZM100 380H104V442H100ZM103 390H106V442H103ZM105 387H109V442H105ZM108 380H111V442H108ZM110 391H114V442H110ZM113 391H117V442H113ZM116 404H119V442H116ZM118 398H122V442H118ZM121 402H124V442H121ZM123 387H127V442H123ZM126 394H130V442H126ZM129 389H132V442H129ZM131 383H135V442H131ZM134 380H137V442H134ZM136 372H140V442H136ZM139 372H143V442H139ZM142 370H145V442H142ZM144 358H148V442H144ZM147 382H150V442H147ZM149 380H153V442H149ZM152 379H155V442H152ZM154 384H158V442H154ZM157 386H161V442H157ZM160 390H163V442H160ZM162 388H166V442H162ZM165 369H168V442H165ZM167 376H171V442H167ZM170 362H174V442H170ZM173 361H176V442H173ZM175 368H179V442H175ZM178 368H181V442H178ZM180 374H184V442H180ZM183 387H186V442H183ZM185 372H189V442H185ZM188 383H192V442H188ZM191 372H194V442H191ZM193 390H197V442H193ZM196 390H199V442H196ZM198 390H202V442H198ZM201 386H205V442H201ZM204 390H207V442H204ZM206 393H210V442H206ZM209 394H212V442H209ZM211 394H215V442H211ZM214 390H217V442H214ZM216 380H220V442H216ZM219 390H223V442H219ZM222 402H225V442H222ZM224 404H228V442H224ZM227 393H230V442H227ZM229 397H233V442H229ZM232 397H236V442H232ZM235 401H238V442H235ZM237 392H241V442H237ZM240 396H243V442H240ZM242 396H246V442H242ZM245 391H249V442H245ZM248 390H251V442H248ZM250 387H254V442H250ZM253 379H256V442H253ZM255 402H259V442H255ZM258 398H261V442H258ZM260 392H264V442H260ZM263 396H267V442H263ZM266 396H269V442H266ZM268 405H272V442H268ZM271 408H274V442H271ZM273 422H277V442H273ZM276 417H280V442H276ZM279 414H282V442H279ZM281 422H285V442H281ZM284 414H287V442H284ZM286 390H290V442H286ZM289 374H292V442H289ZM291 392H295V442H291ZM294 396H298V442H294ZM297 397H300V442H297ZM299 398H303V442H299ZM302 389H305V442H302ZM304 395H308V442H304ZM307 409H311V442H307ZM310 400H313V442H310ZM312 393H316V442H312ZM315 394H318V442H315ZM317 403H321V442H317ZM320 404H323V442H320ZM322 391H326V442H322ZM325 396H329V442H325ZM328 388H331V442H328ZM330 392H334V442H330ZM333 388H336V442H333ZM335 382H339V442H335ZM338 390H342V442H338ZM341 385H344V442H341ZM343 393H347V442H343ZM346 395H349V442H346ZM348 396H352V442H348ZM351 393H354V442H351ZM353 392H357V442H353ZM356 407H360V442H356ZM359 386H362V442H359ZM361 386H365V442H361ZM364 386H367V442H364ZM366 386H370V442H366ZM369 386H373V442H369ZM372 386H375V442H372ZM374 386H378V442H374ZM377 386H380V442H377ZM379 386H383V442H379ZM382 386H386V442H382ZM385 386H388V442H385ZM387 386H391V442H387ZM390 386H393V442H390ZM392 386H396V442H392ZM395 386H398V442H395ZM397 386H401V442H397ZM400 386H404V442H400ZM403 386H406V442H403ZM405 386H409V442H405ZM408 386H411V442H408ZM410 386H414V442H410ZM413 386H417V442H413ZM416 386H419V442H416ZM418 386H422V442H418ZM421 386H424V442H421ZM423 386H427V442H423ZM426 386H429V442H426ZM428 386H432V442H428ZM431 386H435V442H431ZM434 386H437V442H434ZM436 386H440V442H436ZM439 386H442V442H439ZM441 386H445V442H441ZM444 386H448V442H444ZM447 386H450V442H447ZM449 386H453V442H449ZM452 386H455V442H452ZM454 386H458V442H454ZM457 386H460V442H457ZM459 386H463V442H459ZM462 386H466V442H462ZM465 386H468V442H465ZM467 386H471V442H467ZM470 386H473V442H470ZM472 386H476V442H472ZM475 386H479V442H475ZM478 386H481V442H478ZM480 386H484V442H480ZM483 386H486V442H483ZM485 386H489V442H485ZM488 386H491V442H488ZM490 386H494V442H490ZM493 386H497V442H493ZM496 386H499V442H496ZM498 386H502V442H498ZM501 386H504V442H501ZM503 386H507V442H503ZM506 386H510V442H506ZM509 386H512V442H509ZM511 386H515V442H511ZM514 393H517V442H514ZM516 394H520V442H516ZM519 397H523V442H519ZM522 397H525V442H522ZM524 421H528V442H524Z"/><path fill="#0000cc" d="M2 404h1V442h-1ZM1 404H3v1H1ZM2 400h1V442h-1ZM5 400h1V442h-1ZM2 400H6v1H2ZM5 400h1V442h-1ZM7 400h1V442h-1ZM5 400H8v1H5ZM7 405h1V442h-1ZM10 405h1V442h-1ZM7 405H11v1H7ZM10 411h1V442h-1ZM12 411h1V442h-1ZM10 411H13v1H10ZM12 406h1V442h-1ZM15 406h1V442h-1ZM12 406H16v1H12ZM15 405h1V442h-1ZM17 405h1V442h-1ZM15 405H18v1H15ZM17 396h1V442h-1ZM20 396h1V442h-1ZM17 396H21v1H17ZM20 397h1V442h-1ZM23 397h1V442h-1ZM20 397H24v1H20ZM23 394h1V442h-1ZM25 394h1V442h-1ZM23 394H26v1H23ZM25 393h1V442h-1ZM28 393h1V442h-1ZM25 393H29v1H25ZM28 389h1V442h-1ZM30 389h1V442h-1ZM28 389H31v1H28ZM30 397h1V442h-1ZM33 397h1V442h-1ZM30 397H34v1H30ZM33 387h1V442h-1ZM36 387h1V442h-1ZM33 387H37v1H33ZM36 404h1V442h-1ZM38 404h1V442h-1ZM36 404H39v1H36ZM38 401h1V442h-1ZM41 401h1V442h-1ZM38 401H42v1H38ZM41 401h1V442h-1ZM43 401h1V442h-1ZM41 401H44v1H41ZM43 403h1V442h-1ZM46 403h1V442h-1ZM43 403H47v1H43ZM46 410h1V442h-1ZM48 410h1V442h-1ZM46 410H49v1H46ZM48 404h1V442h-1ZM51 404h1V442h-1ZM48 404H52v1H48ZM51 408h1V442h-1ZM54 408h1V442h-1ZM51 408H55v1H51ZM54 405h1V442h-1ZM56 405h1V442h-1ZM54 405H57v1H54ZM56 407h1V442h-1ZM59 407h1V442h-1ZM56 407H60v1H56ZM59 414h1V442h-1ZM61 414h1V442h-1ZM59 414H62v1H59ZM61 414h1V442h-1ZM64 414h1V442h-1ZM61 414H65v1H61ZM64 414h1V442h-1ZM67 414h1V442h-1ZM64 414H68v1H64ZM67 414h1V442h-1ZM69 414h1V442h-1ZM67 414H70v1H67ZM69 412h1V442h-1ZM72 412h1V442h-1ZM69 412H73v1H69ZM72 400h1V442h-1ZM74 400h1V442h-1ZM72 400H75v1H72ZM74 413h1V442h-1ZM77 413h1V442h-1ZM74 413H78v1H74ZM77 400h1V442h-1ZM79 400h1V442h-1ZM77 400H80v1H77ZM79 400h1V442h-1ZM82 400h1V442h-1ZM79 400H83v1H79ZM82 393h1V442h-1ZM85 393h1V442h-1ZM82 393H86v1H82ZM85 390h1V442h-1ZM87 390h1V442h-1ZM85 390H88v1H85ZM87 398h1V442h-1ZM90 398h1V442h-1ZM87 398H91v1H87ZM90 400h1V442h-1ZM92 400h1V442h-1ZM90 400H93v1H90ZM92 390h1V442h-1ZM95 390h1V442h-1ZM92 390H96v1H92ZM95 398h1V442h-1ZM98 398h1V442h-1ZM95 398H99v1H95ZM98 376h1V442h-1ZM100 376h1V442h-1ZM98 376H101v1H98ZM100 380h1V442h-1ZM103 380h1V442h-1ZM100 380H104v1H100ZM103 390h1V442h-1ZM105 390h1V442h-1ZM103 390H106v1H103ZM105 387h1V442h-1ZM108 387h1V442h-1ZM105 387H109v1H105ZM108 380h1V442h-1ZM110 380h1V442h-1ZM108 380H111v1H108ZM110 391h1V442h-1ZM113 391h1V442h-1ZM110 391H114v1H110ZM113 391h1V442h-1ZM116 391h1V442h-1ZM113 391H117v1H113ZM116 404h1V442h-1ZM118 404h1V442h-1ZM116 404H119v1H116ZM118 398h1V442h-1ZM121 398h1V442h-1ZM118 398H122v1H118ZM121 402h1V442h-1ZM123 402h1V442h-1ZM121 402H124v1H121ZM123 387h1V442h-1ZM126 387h1V442h-1ZM123 387H127v1H123ZM126 394h1V442h-1ZM129 394h1V442h-1ZM126 394H130v1H126ZM129 389h1V442h-1ZM131 389h1V442h-1ZM129 389H132v1H129ZM131 383h1V442h-1ZM134 383h1V442h-1ZM131 383H135v1H131ZM134 380h1V442h-1ZM136 380h1V442h-1ZM134 380H137v1H134ZM136 372h1V442h-1ZM139 372h1V442h-1ZM136 372H140v1H136ZM139 372h1V442h-1ZM142 372h1V442h-1ZM139 372H143v1H139ZM142 370h1V442h-1ZM144 370h1V442h-1ZM142 370H145v1H142ZM144 358h1V442h-1ZM147 358h1V442h-1ZM144 358H148v1H144ZM147 382h1V442h-1ZM149 382h1V442h-1ZM147 382H150v1H147ZM149 380h1V442h-1ZM152 380h1V442h-1ZM149 380H153v1H149ZM152 379h1V442h-1ZM154 379h1V442h-1ZM152 379H155v1H152ZM154 384h1V442h-1ZM157 384h1V442h-1ZM154 384H158v1H154ZM157 386h1V442h-1ZM160 386h1V442h-1ZM157 386H161v1H157ZM160 390h1V442h-1ZM162 390h1V442h-1ZM160 390H163v1H160ZM162 388h1V442h-1ZM165 388h1V442h-1ZM162 388H166v1H162ZM165 369h1V442h-1ZM167 369h1V442h-1ZM165 369H168v1H165ZM167 376h1V442h-1ZM170 376h1V442h-1ZM167 376H171v1H167ZM170 362h1V442h-1ZM173 362h1V442h-1ZM170 362H174v1H170ZM173 361h1V442h-1ZM175 361h1V442h-1ZM173 361H176v1H173ZM175 368h1V442h-1ZM178 368h1V442h-1ZM175 368H179v1H175ZM178 368h1V442h-1ZM180 368h1V442h-1ZM178 368H181v1H178ZM180 374h1V442h-1ZM183 374h1V442h-1ZM180 374H184v1H180ZM183 387h1V442h-1ZM185 387h1V442h-1ZM183 387H186v1H183ZM185 372h1V442h-1ZM188 372h1V442h-1ZM185 372H189v1H185ZM188 383h1V442h-1ZM191 383h1V442h-1ZM188 383H192v1H188ZM191 372h1V442h-1ZM193 372h1V442h-1ZM191 372H194v1H191ZM193 390h1V442h-1ZM196 390h1V442h-1ZM193 390H197v1H193ZM196 390h1V442h-1ZM198 390h1V442h-1ZM196 390H199v1H196ZM198 390h1V442h-1ZM201 390h1V442h-1ZM198 390H202v1H198ZM201 386h1V442h-1ZM204 386h1V442h-1ZM201 386H205v1H201ZM204 390h1V442h-1ZM206 390h1V442h-1ZM204 390H207v1H204ZM206 393h1V442h-1ZM209 393h1V442h-1ZM206 393H210v1H206ZM209 394h1V442h-1ZM211 394h1V442h-1ZM209 394H212v1H209ZM211 394h1V442h-1ZM214 394h1V442h-1ZM211 394H215v1H211ZM214 390h1V442h-1ZM216 390h1V442h-1ZM214 390H217v1H214ZM216 380h1V442h-1ZM219 380h1V442h-1ZM216 380H220v1H216ZM219 390h1V442h-1ZM222 390h1V442h-1ZM219 390H223v1H219ZM222 402h1V442h-1ZM224 402h1V442h-1ZM222 402H225v1H222ZM224 404h1V442h-1ZM227 404h1V442h-1ZM224 404H228v1H224ZM227 393h1V442h-1ZM229 393h1V442h-1ZM227 393H230v1H227ZM229 397h1V442h-1ZM232 397h1V442h-1ZM229 397H233v1H229ZM232 397h1V442h-1ZM235 397h1V442h-1ZM232 397H236v1H232ZM235 401h1V442h-1ZM237 401h1V442h-1ZM235 401H238v1H235ZM237 392h1V442h-1ZM240 392h1V442h-1ZM237 392H241v1H237ZM240 396h1V442h-1ZM242 396h1V442h-1ZM240 396H243v1H240ZM242 396h1V442h-1ZM245 396h1V442h-1ZM242 396H246v1H242ZM245 391h1V442h-1ZM248 391h1V442h-1ZM245 391H249v1H245ZM248 390h1V442h-1ZM250 390h1V442h-1ZM248 390H251v1H248ZM250 387h1V442h-1ZM253 387h1V442h-1ZM250 387H254v1H250ZM253 379h1V442h-1ZM255 379h1V442h-1ZM253 379H256v1H253ZM255 402h1V442h-1ZM258 402h1V442h-1ZM255 402H259v1H255ZM258 398h1V442h-1ZM260 398h1V442h-1ZM258 398H261v1H258ZM260 392h1V442h-1ZM263 392h1V442h-1ZM260 392H264v1H260ZM263 396h1V442h-1ZM266 396h1V442h-1ZM263 396H267v1H263ZM266 396h1V442h-1ZM268 396h1V442h-1ZM266 396H269v1H266ZM268 405h1V442h-1ZM271 405h1V442h-1ZM268 405H272v1H268ZM271 408h1V442h-1ZM273 408h1V442h-1ZM271 408H274v1H271ZM273 422h1V442h-1ZM276 422h1V442h-1ZM273 422H277v1H273ZM276 417h1V442h-1ZM279 417h1V442h-1ZM276 417H280v1H276ZM279 414h1V442h-1ZM281 414h1V442h-1ZM279 414H282v1H279ZM281 422h1V442h-1ZM284 422h1V442h-1ZM281 422H285v1H281ZM284 414h1V442h-1ZM286 414h1V442h-1ZM284 414H287v1H284ZM286 390h1V442h-1ZM289 390h1V442h-1ZM286 390H290v1H286ZM289 374h1V442h-1ZM291 374h1V442h-1ZM289 374H292v1H289ZM291 392h1V442h-1ZM294 392h1V442h-1ZM291 392H295v1H291ZM294 396h1V442h-1ZM297 396h1V442h-1ZM294 396H298v1H294ZM297 397h1V442h-1ZM299 397h1V442h-1ZM297 397H300v1H297ZM299 398h1V442h-1ZM302 398h1V442h-1ZM299 398H303v1H299ZM302 389h1V442h-1ZM304 389h1V442h-1ZM302 389H305v1H302ZM304 395h1V442h-1ZM307 395h1V442h-1ZM304 395H308v1H304ZM307 409h1V442h-1ZM310 409h1V442h-1ZM307 409H311v1H307ZM310 400h1V442h-1ZM312 400h1V442h-1ZM310 400H313v1H310ZM312 393h1V442h-1ZM315 393h1V442h-1ZM312 393H316v1H312ZM315 394h1V442h-1ZM317 394h1V442h-1ZM315 394H318v1H315ZM317 403h1V442h-1ZM320 403h1V442h-1ZM317 403H321v1H317ZM320 404h1V442h-1ZM322 404h1V442h-1ZM320 404H323v1H320ZM322 391h1V442h-1ZM325 391h1V442h-1ZM322 391H326v1H322ZM325 396h1V442h-1ZM328 396h1V442h-1ZM325 396H329v1H325ZM328 388h1V442h-1ZM330 388h1V442h-1ZM328 388H331v1H328ZM330 392h1V442h-1ZM333 392h1V442h-1ZM330 392H334v1H330ZM333 388h1V442h-1ZM335 388h1V442h-1ZM333 388H336v1H333ZM335 382h1V442h-1ZM338 382h1V442h-1ZM335 382H339v1H335ZM338 390h1V442h-1ZM341 390h1V442h-1ZM338 390H342v1H338ZM341 385h1V442h-1ZM343 385h1V442h-1ZM341 385H344v1H341ZM343 393h1V442h-1ZM346 393h1V442h-1ZM343 393H347v1H343ZM346 395h1V442h-1ZM348 395h1V442h-1ZM346 395H349v1H346ZM348 396h1V442h-1ZM351 396h1V442h-1ZM348 396H352v1H348ZM351 393h1V442h-1ZM353 393h1V442h-1ZM351 393H354v1H351ZM353 392h1V442h-1ZM356 392h1V442h-1ZM353 392H357v1H353ZM356 407h1V442h-1ZM359 407h1V442h-1ZM356 407H360v1H356ZM359 386h1V442h-1ZM361 386h1V442h-1ZM359 386H362v1H359ZM361 386h1V442h-1ZM364 386h1V442h-1ZM361 386H365v1H361ZM364 386h1V442h-1ZM366 386h1V442h-1ZM364 386H367v1H364ZM366 386h1V442h-1ZM369 386h1V442h-1ZM366 386H370v1H366ZM369 386h1V442h-1ZM372 386h1V442h-1ZM369 386H373v1H369ZM372 386h1V442h-1ZM374 386h1V442h-1ZM372 386H375v1H372ZM374 386h1V442h-1ZM377 386h1V442h-1ZM374 386H378v1H374ZM377 386h1V442h-1ZM379 386h1V442h-1ZM377 386H380v1H377ZM379 386h1V442h-1ZM382 386h1V442h-1ZM379 386H383v1H379ZM382 386h1V442h-1ZM385 386h1V442h-1ZM382 386H386v1H382ZM385 386h1V442h-1ZM387 386h1V442h-1ZM385 386H388v1H385ZM387 386h1V442h-1ZM390 386h1V442h-1ZM387 386H391v1H387ZM390 386h1V442h-1ZM392 386h1V442h-1ZM390 386H393v1H390ZM392 386h1V442h-1ZM395 386h1V442h-1ZM392 386H396v1H392ZM395 386h1V442h-1ZM397 386h1V442h-1ZM395 386H398v1H395ZM397 386h1V442h-1ZM400 386h1V442h-1ZM397 386H401v1H397ZM400 386h1V442h-1ZM403 386h1V442h-1ZM400 386H404v1H400ZM403 386h1V442h-1ZM405 386h1V442h-1ZM403 386H406v1H403ZM405 386h1V442h-1ZM408 386h1V442h-1ZM405 386H409v1H405ZM408 386h1V442h-1ZM410 386h1V442h-1ZM408 386H411v1H408ZM410 386h1V442h-1ZM413 386h1V442h-1ZM410 386H414v1H410ZM413 386h1V442h-1ZM416 386h1V442h-1ZM413 386H417v1H413ZM416 386h1V442h-1ZM418 386h1V442h-1ZM416 386H419v1H416ZM418 386h1V442h-1ZM421 386h1V442h-1ZM418 386H422v1H418ZM421 386h1V442h-1ZM423 386h1V442h-1ZM421 386H424v1H421ZM423 386h1V442h-1ZM426 386h1V442h-1ZM423 386H427v1H423ZM426 386h1V442h-1ZM428 386h1V442h-1ZM426 386H429v1H426ZM428 386h1V442h-1ZM431 386h1V442h-1ZM428 386H432v1H428ZM431 386h1V442h-1ZM434 386h1V442h-1ZM431 386H435v1H431ZM434 386h1V442h-1ZM436 386h1V442h-1ZM434 386H437v1H434ZM436 386h1V442h-1ZM439 386h1V442h-1ZM436 386H440v1H436ZM439 386h1V442h-1ZM441 386h1V442h-1ZM439 386H442v1H439ZM441 386h1V442h-1ZM444 386h1V442h-1ZM441 386H445v1H441ZM444 386h1V442h-1ZM447 386h1V442h-1ZM444 386H448v1H444ZM447 386h1V442h-1ZM449 386h1V442h-1ZM447 386H450v1H447ZM449 386h1V442h-1ZM452 386h1V442h-1ZM449 386H453v1H449ZM452 386h1V442h-1ZM454 386h1V442h-1ZM452 386H455v1H452ZM454 386h1V442h-1ZM457 386h1V442h-1ZM454 386H458v1H454ZM457 386h1V442h-1ZM459 386h1V442h-1ZM457 386H460v1H457ZM459 386h1V442h-1ZM462 386h1V442h-1ZM459 386H463v1H459ZM462 386h1V442h-1ZM465 386h1V442h-1ZM462 386H466v1H462ZM465 386h1V442h-1ZM467 386h1V442h-1ZM465 386H468v1H465ZM467 386h1V442h-1ZM470 386h1V442h-1ZM467 386H471v1H467ZM470 386h1V442h-1ZM472 386h1V442h-1ZM470 386H473v1H470ZM472 386h1V442h-1ZM475 386h1V442h-1ZM472 386H476v1H472ZM475 386h1V442h-1ZM478 386h1V442h-1ZM475 386H479v1H475ZM478 386h1V442h-1ZM480 386h1V442h-1ZM478 386H481v1H478ZM480 386h1V442h-1ZM483 386h1V442h-1ZM480 386H484v1H480ZM483 386h1V442h-1ZM485 386h1V442h-1ZM483 386H486v1H483ZM485 386h1V442h-1ZM488 386h1V442h-1ZM485 386H489v1H485ZM488 386h1V442h-1ZM490 386h1V442h-1ZM488 386H491v1H488ZM490 386h1V442h-1ZM493 386h1V442h-1ZM490 386H494v1H490ZM493 386h1V442h-1ZM496 386h1V442h-1ZM493 386H497v1H493ZM496 386h1V442h-1ZM498 386h1V442h-1ZM496 386H499v1H496ZM498 386h1V442h-1ZM501 386h1V442h-1ZM498 386H502v1H498ZM501 386h1V442h-1ZM503 386h1V442h-1ZM501 386H504v1H501ZM503 386h1V442h-1ZM506 386h1V442h-1ZM503 386H507v1H503ZM506 386h1V442h-1ZM509 386h1V442h-1ZM506 386H510v1H506ZM509 386h1V442h-1ZM511 386h1V442h-1ZM509 386H512v1H509ZM511 386h1V442h-1ZM514 386h1V442h-1ZM511 386H515v1H511ZM514 393h1V442h-1ZM516 393h1V442h-1ZM514 393H517v1H514ZM516 394h1V442h-1ZM519 394h1V442h-1ZM516 394H520v1H516ZM519 397h1V442h-1ZM522 397h1V442h-1ZM519 397H523v1H519ZM522 397h1V442h-1ZM524 397h1V442h-1ZM522 397H525v1H522ZM524 421h1V442h-1ZM527 421h1V442h-1ZM524 421H528v1H524Z"/><path fill="#0000ff" d="M1 397h20v1h-20zM73 397h12v1h-12zM1 398h45v1h-45zM73 398h12v1h-12zM21 399h38v1h-38zM72 399h2v1h-2zM84 399h2v1h-2zM96 399h13v1h-13zM46 400h27v1h-27zM85 400h24v1h-24zM59 401h14v1h-14zM85 401h11v1h-11zM108 401h1v1h-1zM108 402h2v1h-2zM109 403h10v1h-10zM109 404h10v1h-10zM281 404h24v1h-24zM331 404h31v1h-31zM118 405h15v1h-15zM229 405h76v1h-76zM331 405h31v1h-31zM119 406h14v1h-14zM229 406h52v1h-52zM304 406h2v1h-2zM330 406h2v1h-2zM132 407h14v1h-14zM228 407h2v1h-2zM305 407h26v1h-26zM133 408h13v1h-13zM191 408h38v1h-38zM305 408h26v1h-26zM145 409h2v1h-2zM157 409h14v1h-14zM190 409h39v1h-39zM146 410h45v1h-45zM146 411h11v1h-11zM171 411h20v1h-20z"/><path fill="#0000ff" d="M489 404h22v1h-22zM489 405h22v1h-22z"/><path fill="#ff0000" d="M1 358h7v1h-7zM21 358h13v1h-13zM1 359h7v1h-7zM20 359h14v1h-14zM7 360h14v1h-14zM33 360h2v1h-2zM8 361h13v1h-13zM34 361h13v1h-13zM59 361h14v1h-14zM34 362h39v1h-39zM47 363h12v1h-12zM72 363h1v1h-1zM72 364h2v1h-2zM73 365h13v1h-13zM73 366h26v1h-26zM86 367h13v1h-13zM98 368h11v1h-11zM99 369h10v1h-10zM108 370h2v1h-2zM119 370h12v1h-12zM109 371h22v1h-22zM109 372h10v1h-10zM130 372h15v1h-15zM131 373h14v1h-14zM144 374h1v1h-1zM144 375h1v1h-1zM144 376h2v1h-2zM145 377h1v1h-1zM145 378h1v1h-1zM145 379h1v1h-1zM145 380h1v1h-1zM145 381h1v1h-1zM145 382h1v1h-1zM145 383h2v1h-2zM146 384h1v1h-1zM146 385h1v1h-1zM146 386h35v1h-35zM146 387h35v1h-35zM180 388h2v1h-2zM181 389h1v1h-1zM181 390h1v1h-1zM181 391h2v1h-2zM182 392h1v1h-1zM204 392h14v1h-14zM182 393h1v1h-1zM202 393h17v1h-17zM182 394h2v1h-2zM200 394h4v1h-4zM218 394h11v1h-11zM183 395h19v1h-19zM219 395h10v1h-10zM183 396h17v1h-17zM228 396h23v1h-23zM321 396h10v1h-10zM229 397h22v1h-22zM320 397h11v1h-11zM250 398h2v1h-2zM306 398h15v1h-15zM330 398h2v1h-2zM251 399h23v1h-23zM306 399h15v1h-15zM331 399h13v1h-13zM251 400h30v1h-30zM305 400h2v1h-2zM331 400h31v1h-31zM274 401h32v1h-32zM344 401h18v1h-18zM281 402h25v1h-25z"/><path fill="#ff0000" d="M489 398h1v1h-1zM510 398h1v1h-1zM489 399h2v1h-2zM509 399h2v1h-2zM490 400h20v1h-20zM491 401h18v1h-18z"/><path fill="#0000cc" d="M1 75h2v13h-2zM3 67h1v2h-1zM3 74h1v1h-1zM2 69h3v5h-3zM5 57h3v10h-3zM7 62h3v7h-3zM11 62h1v3h-1zM10 65h3v5h-3zM13 78h1v6h-1zM12 73h3v5h-3zM15 67h3v6h-3zM19 63h1v2h-1zM19 69h1v2h-1zM18 65h3v4h-3zM21 70h1v1h-1zM20 71h3v11h-3zM23 78h3v9h-3zM26 89h1v1h-1zM25 80h3v9h-3zM29 70h1v2h-1zM29 82h1v1h-1zM28 72h3v10h-3zM31 83h1v1h-1zM30 72h3v11h-3zM34 72h1v4h-1zM34 83h1v4h-1zM33 76h3v7h-3zM37 63h1v1h-1zM36 64h3v10h-3zM39 65h1v1h-1zM38 66h3v6h-3zM41 74h3v10h-3zM44 80h1v1h-1zM43 81h3v6h-3zM46 82h3v4h-3zM50 71h1v5h-1zM49 76h3v9h-3zM52 91h1v3h-1zM51 82h3v9h-3zM55 87h1v3h-1zM54 90h3v5h-3zM57 96h1v1h-1zM56 88h3v8h-3zM60 94h1v1h-1zM60 100h1v1h-1zM59 95h3v5h-3zM63 85h1v4h-1zM63 93h1v1h-1zM62 89h3v4h-3zM65 92h1v1h-1zM65 97h1v3h-1zM64 93h3v4h-3zM68 92h1v1h-1zM68 97h1v2h-1zM67 93h3v4h-3zM70 90h1v1h-1zM70 95h1v2h-1zM69 91h3v4h-3zM72 80h3v8h-3zM75 85h1v1h-1zM74 86h3v6h-3zM78 87h1v6h-1zM78 102h1v6h-1zM77 93h3v9h-3zM81 93h1v3h-1zM80 96h3v5h-3zM83 98h1v2h-1zM83 105h1v2h-1zM82 100h3v5h-3zM86 108h1v2h-1zM86 120h1v2h-1zM85 110h3v10h-3zM88 98h1v2h-1zM87 100h3v14h-3zM91 103h1v1h-1zM91 112h1v2h-1zM90 104h3v8h-3zM94 109h1v3h-1zM94 117h1v1h-1zM93 112h3v5h-3zM96 115h1v1h-1zM96 125h1v1h-1zM95 116h3v9h-3zM99 115h1v1h-1zM99 119h1v8h-1zM98 116h3v3h-3zM101 125h1v1h-1zM101 146h1v3h-1zM100 126h3v20h-3zM104 133h1v5h-1zM103 138h3v4h-3zM106 145h1v1h-1zM106 151h1v8h-1zM105 146h3v5h-3zM109 145h1v1h-1zM108 131h3v14h-3zM112 116h1v7h-1zM111 123h3v4h-3zM114 122h1v1h-1zM114 127h1v5h-1zM113 123h3v4h-3zM117 125h1v2h-1zM117 132h1v5h-1zM116 127h3v5h-3zM119 124h1v2h-1zM119 135h1v4h-1zM118 126h3v9h-3zM122 125h1v7h-1zM122 141h1v1h-1zM121 132h3v9h-3zM125 161h1v5h-1zM124 146h3v15h-3zM127 151h1v1h-1zM127 158h1v2h-1zM126 152h3v6h-3zM130 151h1v2h-1zM129 153h3v14h-3zM132 167h1v2h-1zM131 169h3v7h-3zM135 178h1v1h-1zM135 196h1v5h-1zM134 179h3v17h-3zM137 199h1v2h-1zM137 211h1v10h-1zM136 201h3v10h-3zM140 214h1v1h-1zM140 253h1v1h-1zM139 215h3v38h-3zM143 240h1v12h-1zM143 255h1v2h-1zM142 252h3v3h-3zM145 258h1v1h-1zM145 293h1v1h-1zM144 259h3v34h-3zM148 288h1v1h-1zM147 240h3v48h-3zM150 233h1v2h-1zM150 244h1v6h-1zM149 235h3v9h-3zM153 284h1v1h-1zM152 242h3v42h-3zM156 270h1v1h-1zM156 279h1v3h-1zM155 271h3v8h-3zM158 258h1v1h-1zM158 270h1v1h-1zM157 259h3v11h-3zM161 244h1v2h-1zM160 246h3v8h-3zM162 251h3v25h-3zM166 279h1v1h-1zM166 284h1v1h-1zM165 280h3v4h-3zM168 285h1v1h-1zM167 286h3v35h-3zM171 309h1v14h-1zM171 342h1v1h-1zM170 323h3v19h-3zM174 342h1v8h-1zM173 320h3v22h-3zM175 294h3v23h-3zM179 258h1v1h-1zM179 293h1v1h-1zM178 259h3v34h-3zM181 255h3v24h-3zM184 253h1v2h-1zM184 274h1v1h-1zM183 255h3v19h-3zM186 237h3v15h-3zM189 266h1v4h-1zM188 243h3v23h-3zM192 269h1v1h-1zM192 280h1v13h-1zM191 270h3v10h-3zM194 256h1v1h-1zM194 272h1v1h-1zM193 257h3v15h-3zM197 257h1v1h-1zM197 272h1v7h-1zM196 258h3v14h-3zM200 264h1v1h-1zM200 273h1v6h-1zM199 265h3v8h-3zM202 295h1v3h-1zM201 279h3v16h-3zM205 274h1v8h-1zM205 288h1v4h-1zM204 282h3v6h-3zM207 270h1v12h-1zM207 288h1v7h-1zM206 282h3v6h-3zM210 284h1v1h-1zM210 291h1v1h-1zM209 285h3v6h-3zM212 287h1v1h-1zM212 294h1v6h-1zM211 288h3v6h-3zM215 318h1v1h-1zM214 297h3v21h-3zM218 306h1v2h-1zM218 322h1v9h-1zM217 308h3v14h-3zM220 288h1v2h-1zM219 290h3v14h-3zM223 290h1v1h-1zM223 294h1v5h-1zM222 291h3v3h-3zM225 283h1v4h-1zM224 287h3v5h-3zM228 280h1v1h-1zM227 281h3v6h-3zM231 281h1v2h-1zM231 288h1v3h-1zM230 283h3v5h-3zM232 292h3v20h-3zM236 300h1v3h-1zM236 307h1v4h-1zM235 303h3v4h-3zM238 299h1v5h-1zM238 309h1v3h-1zM237 304h3v5h-3zM241 302h1v2h-1zM241 308h1v2h-1zM240 304h3v4h-3zM243 288h1v1h-1zM242 289h3v18h-3zM246 282h1v4h-1zM246 289h1v3h-1zM245 286h3v3h-3zM249 287h1v1h-1zM248 275h3v12h-3zM251 277h1v1h-1zM250 272h3v5h-3zM254 295h1v6h-1zM253 276h3v19h-3zM257 273h1v1h-1zM257 289h1v1h-1zM256 274h3v15h-3zM259 276h1v1h-1zM259 280h1v5h-1zM258 277h3v3h-3zM262 271h1v3h-1zM262 280h1v7h-1zM261 274h3v6h-3zM264 272h1v2h-1zM263 274h3v6h-3zM267 271h1v2h-1zM267 279h1v1h-1zM266 273h3v6h-3zM269 271h1v1h-1zM268 272h3v7h-3zM272 275h1v1h-1zM272 283h1v2h-1zM271 276h3v7h-3zM274 276h1v1h-1zM274 281h1v1h-1zM273 277h3v4h-3zM277 271h1v1h-1zM277 277h1v2h-1zM276 272h3v5h-3zM280 269h1v1h-1zM280 274h1v4h-1zM279 270h3v4h-3zM282 265h1v1h-1zM282 274h1v1h-1zM281 266h3v8h-3zM285 255h1v1h-1zM285 261h1v1h-1zM284 256h3v5h-3zM287 252h1v1h-1zM287 258h1v1h-1zM286 253h3v5h-3zM290 245h1v5h-1zM289 250h3v5h-3zM293 252h1v2h-1zM293 266h1v1h-1zM292 254h3v12h-3zM295 260h1v1h-1zM295 269h1v2h-1zM294 261h3v8h-3zM298 270h1v1h-1zM298 286h1v1h-1zM297 271h3v15h-3zM300 281h1v1h-1zM300 287h1v3h-1zM299 282h3v5h-3zM303 305h1v1h-1zM302 290h3v15h-3zM305 293h1v1h-1zM305 299h1v3h-1zM304 294h3v5h-3zM308 288h1v2h-1zM308 294h1v2h-1zM307 290h3v4h-3zM311 294h1v1h-1zM311 302h1v5h-1zM310 295h3v7h-3zM313 303h1v3h-1zM313 310h1v3h-1zM312 306h3v4h-3zM316 300h1v1h-1zM316 306h1v1h-1zM315 301h3v5h-3zM318 304h1v1h-1zM317 305h3v12h-3zM321 313h1v3h-1zM321 319h1v1h-1zM320 316h3v3h-3zM324 299h1v2h-1zM323 301h3v13h-3zM326 296h1v4h-1zM326 303h1v5h-1zM325 300h3v3h-3zM329 290h1v3h-1zM328 293h3v4h-3zM331 296h1v1h-1zM331 305h1v4h-1zM330 297h3v8h-3zM334 306h1v1h-1zM334 313h1v2h-1zM333 307h3v6h-3zM337 300h1v8h-1zM337 312h1v1h-1zM336 308h3v4h-3zM339 300h1v2h-1zM339 310h1v2h-1zM338 302h3v8h-3zM342 301h1v2h-1zM342 307h1v3h-1zM341 303h3v4h-3zM344 296h1v5h-1zM344 305h1v1h-1zM343 301h3v4h-3zM347 292h1v5h-1zM346 297h3v8h-3zM349 297h1v1h-1zM349 308h1v1h-1zM348 298h3v10h-3zM352 309h1v2h-1zM352 319h1v1h-1zM351 311h3v8h-3zM355 309h1v1h-1zM355 317h1v1h-1zM354 310h3v7h-3zM357 312h1v3h-1zM357 316h1v3h-1zM356 315h3v1h-3zM360 316h1v1h-1zM360 321h1v1h-1zM359 317h3v4h-3zM362 323h1v1h-1zM362 325h1v4h-1zM361 324h3v1h-3zM365 319h1v2h-1zM365 326h1v1h-1zM364 321h3v5h-3zM368 322h1v1h-1zM368 331h1v2h-1zM367 323h3v8h-3zM370 329h1v3h-1zM370 336h1v5h-1zM369 332h3v4h-3zM373 337h1v6h-1zM372 336h3v1h-3zM374 327h3v7h-3zM378 325h1v2h-1zM378 331h1v1h-1zM377 327h3v4h-3zM380 321h1v2h-1zM380 329h1v2h-1zM379 323h3v6h-3zM383 327h1v1h-1zM382 328h3v9h-3zM386 336h1v2h-1zM386 341h1v4h-1zM385 338h3v3h-3zM388 334h1v2h-1zM388 342h1v2h-1zM387 336h3v6h-3zM391 324h1v4h-1zM390 328h3v6h-3zM393 331h1v2h-1zM393 341h1v1h-1zM392 333h3v8h-3zM396 335h1v2h-1zM396 345h1v1h-1zM395 337h3v8h-3zM399 343h1v1h-1zM399 346h1v2h-1zM398 344h3v2h-3zM401 330h1v1h-1zM401 341h1v1h-1zM400 331h3v10h-3zM404 332h1v2h-1zM404 340h1v1h-1zM403 334h3v6h-3zM406 336h1v1h-1zM405 323h3v13h-3zM409 313h1v2h-1zM409 321h1v1h-1zM408 315h3v6h-3zM411 304h1v2h-1zM410 306h3v10h-3zM414 301h1v1h-1zM414 307h1v3h-1zM413 302h3v5h-3zM417 302h1v1h-1zM417 307h1v3h-1zM416 303h3v4h-3zM419 308h1v1h-1zM418 294h3v14h-3zM422 281h1v1h-1zM422 290h1v3h-1zM421 282h3v8h-3zM424 278h1v1h-1zM423 279h3v8h-3zM427 276h1v1h-1zM427 287h1v2h-1zM426 277h3v10h-3zM430 266h1v6h-1zM430 277h1v1h-1zM429 272h3v5h-3zM432 275h1v1h-1zM432 294h1v1h-1zM431 276h3v18h-3zM435 301h1v2h-1zM434 294h3v7h-3zM437 298h1v4h-1zM436 288h3v10h-3zM440 271h1v1h-1zM440 285h1v1h-1zM439 272h3v13h-3zM443 266h1v3h-1zM443 273h1v2h-1zM442 269h3v4h-3zM445 260h1v6h-1zM445 267h1v3h-1zM444 266h3v1h-3zM448 265h1v2h-1zM448 268h1v3h-1zM447 267h3v1h-3zM450 269h1v2h-1zM450 279h1v2h-1zM449 271h3v8h-3zM453 262h1v1h-1zM452 263h3v13h-3zM455 257h1v1h-1zM455 263h1v2h-1zM454 258h3v5h-3zM458 259h1v3h-1zM458 264h1v1h-1zM457 262h3v2h-3zM461 261h1v1h-1zM461 269h1v4h-1zM460 262h3v7h-3zM463 266h1v2h-1zM463 273h1v3h-1zM462 268h3v5h-3zM466 258h1v8h-1zM466 273h1v1h-1zM465 266h3v7h-3zM468 261h1v2h-1zM468 267h1v1h-1zM467 263h3v4h-3zM471 262h1v1h-1zM471 267h1v1h-1zM470 263h3v4h-3zM474 267h1v1h-1zM474 273h1v7h-1zM473 268h3v5h-3zM476 268h1v1h-1zM476 273h1v3h-1zM475 269h3v4h-3zM479 271h1v3h-1zM478 266h3v5h-3zM481 266h1v1h-1zM480 267h3v5h-3zM484 267h1v1h-1zM484 273h1v2h-1zM483 268h3v5h-3zM486 272h1v1h-1zM486 283h1v2h-1zM485 273h3v10h-3zM489 267h1v1h-1zM489 278h1v3h-1zM488 268h3v10h-3zM492 259h1v2h-1zM492 268h1v1h-1zM491 261h3v7h-3zM493 243h3v13h-3zM497 239h1v2h-1zM496 241h3v4h-3zM499 237h1v1h-1zM499 243h1v1h-1zM498 238h3v5h-3zM502 242h1v2h-1zM502 247h1v1h-1zM501 244h3v3h-3zM505 243h1v1h-1zM505 248h1v1h-1zM504 244h3v4h-3zM507 249h1v1h-1zM507 256h1v3h-1zM506 250h3v6h-3zM509 248h3v6h-3zM512 251h1v1h-1zM512 259h1v2h-1zM511 252h3v7h-3zM515 246h1v1h-1zM514 247h3v6h-3zM517 242h1v1h-1zM517 245h1v2h-1zM516 243h3v2h-3zM520 247h1v1h-1zM520 251h1v1h-1zM519 248h3v3h-3zM523 254h1v1h-1zM522 248h3v6h-3zM525 243h1v3h-1zM524 246h3v4h-3z"/><path fill="#fff" d="M1 76h1v11h-1zM3 70h1v3h-1zM6 58h1v8h-1zM16 68h1v4h-1zM29 73h1v8h-1zM34 77h1v5h-1zM37 65h1v8h-1zM44 82h1v4h-1zM47 83h1v2h-1zM50 77h1v7h-1zM55 91h1v3h-1zM63 90h1v2h-1zM65 94h1v2h-1zM73 81h1v6h-1zM88 101h1v12h-1zM94 113h1v3h-1zM109 132h1v12h-1zM112 124h1v2h-1zM114 124h1v2h-1zM117 128h1v3h-1zM148 241h1v46h-1zM150 236h1v7h-1zM156 272h1v6h-1zM158 260h1v9h-1zM161 247h1v6h-1zM174 321h1v20h-1zM176 295h1v21h-1zM179 260h1v32h-1zM184 256h1v17h-1zM187 238h1v13h-1zM194 258h1v13h-1zM200 266h1v6h-1zM205 283h1v4h-1zM218 309h1v12h-1zM220 291h1v12h-1zM225 288h1v3h-1zM228 282h1v4h-1zM236 304h1v2h-1zM243 290h1v16h-1zM246 287h1v1h-1zM249 276h1v10h-1zM251 273h1v3h-1zM257 275h1v13h-1zM262 275h1v4h-1zM264 275h1v4h-1zM269 273h1v5h-1zM274 278h1v2h-1zM277 273h1v3h-1zM280 271h1v2h-1zM282 267h1v6h-1zM285 257h1v3h-1zM287 254h1v3h-1zM290 251h1v3h-1zM305 295h1v3h-1zM316 302h1v3h-1zM324 302h1v11h-1zM326 301h1v1h-1zM329 294h1v2h-1zM339 303h1v6h-1zM370 333h1v2h-1zM375 328h1v5h-1zM380 324h1v4h-1zM386 339h1v1h-1zM388 337h1v4h-1zM391 329h1v4h-1zM401 332h1v8h-1zM406 324h1v11h-1zM409 316h1v4h-1zM411 307h1v8h-1zM419 295h1v12h-1zM422 283h1v6h-1zM424 280h1v6h-1zM427 278h1v8h-1zM437 289h1v8h-1zM440 273h1v11h-1zM453 264h1v11h-1zM468 264h1v2h-1zM479 267h1v3h-1zM489 269h1v8h-1zM492 262h1v5h-1zM494 244h1v11h-1zM497 242h1v2h-1zM510 249h1v4h-1zM515 248h1v4h-1zM523 249h1v4h-1zM525 247h1v2h-1z"/><path fill="#d83000" d="M1 25h2v1h-2zM3 26h2v1h-2zM5 27h3v1h-3zM8 28h3v1h-3zM11 29h2v1h-2zM13 30h3v1h-3zM16 31h2v1h-2zM18 32h7v1h-7zM25 33h4v1h-4zM29 34h3v1h-3zM32 35h2v1h-2zM34 36h3v1h-3zM37 37h2v1h-2zM39 38h3v1h-3zM42 39h3v1h-3zM45 40h4v1h-4zM49 41h3v1h-3zM52 42h3v1h-3zM55 43h3v1h-3zM58 44h3v1h-3zM61 45h3v1h-3zM64 46h3v1h-3zM67 47h2v1h-2zM69 48h5v1h-5zM74 49h3v1h-3zM77 50h3v1h-3zM80 51h3v1h-3zM83 52h4v1h-4zM87 53h5v1h-5zM92 54h5v1h-5zM97 55h4v1h-4zM101 56h3v1h-3zM104 57h4v1h-4zM108 58h3v1h-3zM111 59h4v1h-4zM115 60h3v1h-3zM118 61h3v1h-3zM121 62h2v1h-2zM123 63h2v1h-2zM125 64h3v1h-3zM128 65h3v1h-3zM131 66h3v1h-3zM134 67h3v1h-3zM137 68h2v1h-2zM139 69h2v1h-2zM141 70h1v1h-1zM142 71h1v1h-1zM143 72h2v1h-2zM145 73h2v1h-2zM147 74h2v1h-2zM149 75h3v1h-3zM152 76h2v1h-2zM154 77h1v1h-1zM155 78h2v1h-2zM157 79h1v1h-1zM158 80h2v1h-2zM160 81h2v1h-2zM162 82h2v1h-2zM164 83h2v1h-2zM166 84h2v1h-2zM168 85h2v1h-2zM170 86h1v1h-1zM171 87h2v1h-2zM173 88h2v1h-2zM175 89h1v1h-1zM176 90h2v1h-2zM178 91h2v1h-2zM180 92h3v1h-3zM183 93h3v1h-3zM186 94h3v1h-3zM189 95h3v1h-3zM192 96h2v1h-2zM194 97h3v1h-3zM197 98h2v1h-2zM199 99h2v1h-2zM201 100h3v1h-3zM204 101h3v1h-3zM207 102h2v1h-2zM209 103h2v1h-2zM211 104h2v1h-2zM213 105h2v1h-2zM215 106h2v1h-2zM217 107h2v1h-2zM219 108h2v1h-2zM221 109h2v1h-2zM223 110h2v1h-2zM225 111h2v1h-2zM227 112h3v1h-3zM230 113h3v1h-3zM233 114h3v1h-3zM236 115h2v1h-2zM238 116h2v1h-2zM240 117h2v1h-2zM242 118h2v1h-2zM244 119h2v1h-2zM246 120h3v1h-3zM249 121h2v1h-2zM251 122h2v1h-2zM253 123h3v1h-3zM256 124h2v1h-2zM258 125h1v1h-1zM259 126h2v1h-2zM261 127h2v1h-2zM263 128h1v1h-1zM264 129h3v1h-3zM267 130h3v1h-3zM270 131h3v1h-3zM273 132h3v1h-3zM276 133h2v1h-2zM278 134h4v1h-4zM282 135h4v1h-4zM286 136h3v1h-3zM289 137h3v1h-3zM292 138h4v1h-4zM296 139h3v1h-3zM299 140h3v1h-3zM302 141h3v1h-3zM305 142h3v1h-3zM308 143h2v1h-2zM310 144h3v1h-3zM313 145h2v1h-2zM315 146h3v1h-3zM318 147h3v1h-3zM321 148h2v1h-2zM323 149h3v1h-3zM326 150h2v1h-2zM328 151h2v1h-2zM330 152h2v1h-2zM332 153h1v1h-1zM333 154h3v1h-3zM336 155h3v1h-3zM339 156h3v1h-3zM342 157h2v1h-2zM344 158h3v1h-3zM347 159h2v1h-2zM349 160h2v1h-2zM351 161h2v1h-2zM353 162h2v1h-2zM355 163h2v1h-2zM357 164h2v1h-2zM359 165h2v1h-2zM361 166h3v1h-3zM364 167h2v1h-2zM366 168h2v1h-2zM368 169h1v1h-1zM369 170h2v1h-2zM371 171h2v1h-2zM373 172h2v1h-2zM375 173h1v1h-1zM376 174h2v1h-2zM378 175h2v1h-2zM380 176h2v1h-2zM382 177h2v1h-2zM384 178h1v1h-1zM385 179h2v1h-2zM387 180h2v1h-2zM389 181h2v1h-2zM391 182h1v1h-1zM392 183h2v1h-2zM394 184h1v1h-1zM395 185h2v1h-2zM397 186h1v1h-1zM398 187h2v1h-2zM400 188h1v1h-1zM401 189h2v1h-2zM403 190h2v1h-2zM405 191h1v1h-1zM406 192h2v1h-2zM408 193h2v1h-2zM410 194h2v1h-2zM412 195h2v1h-2zM414 196h3v1h-3zM417 197h2v1h-2zM419 198h1v1h-1zM420 199h2v1h-2zM422 200h2v1h-2zM424 201h2v1h-2zM426 202h2v1h-2zM428 203h2v1h-2zM430 204h2v1h-2zM432 205h2v1h-2zM434 206h2v1h-2zM436 207h2v1h-2zM438 208h2v1h-2zM440 209h2v1h-2zM442 210h2v1h-2zM444 211h2v1h-2zM446 212h3v1h-3zM449 213h2v1h-2zM451 214h2v1h-2zM453 215h3v1h-3zM456 216h2v1h-2zM458 217h2v1h-2zM460 218h2v1h-2zM462 219h2v1h-2zM464 220h3v1h-3zM467 221h2v1h-2zM469 222h2v1h-2zM471 223h3v1h-3zM474 224h2v1h-2zM476 225h2v1h-2zM478 226h2v1h-2zM480 227h3v1h-3zM483 228h2v1h-2zM485 229h3v1h-3zM488 230h3v1h-3zM491 231h2v1h-2zM493 232h3v1h-3zM496 233h4v1h-4zM500 234h4v1h-4zM504 235h3v1h-3zM507 236h4v1h-4zM511 237h3v1h-3zM514 238h3v1h-3zM517 239h2v1h-2zM519 240h2v1h-2zM521 241h2v1h-2zM523 242h3v1h-3zM526 243h1v1h-1z"/><path fill="#d2a000" d="M17 52h7v1h-7zM2 53h15v1h-15zM24 53h14v1h-14zM1 54h1v1h-1zM38 54h7v1h-7zM45 55h5v1h-5zM50 56h7v1h-7zM57 57h4v1h-4zM61 58h3v1h-3zM64 59h3v1h-3zM67 60h4v1h-4zM71 61h3v1h-3zM74 62h3v1h-3zM77 63h2v1h-2zM79 64h3v1h-3zM82 65h3v1h-3zM85 66h3v1h-3zM88 67h4v1h-4zM92 68h3v1h-3zM95 69h2v1h-2zM97 70h2v1h-2zM99 71h2v1h-2zM101 72h3v1h-3zM104 73h1v1h-1zM105 74h2v1h-2zM107 75h2v1h-2zM109 76h2v1h-2zM111 77h1v1h-1zM112 78h2v1h-2zM114 79h2v1h-2zM116 80h2v1h-2zM118 81h2v1h-2zM120 82h1v1h-1zM121 83h2v1h-2zM123 84h2v1h-2zM125 85h2v1h-2zM127 86h2v1h-2zM129 87h1v1h-1zM130 88h2v1h-2zM132 89h1v1h-1zM133 90h1v1h-1zM134 91h1v1h-1zM135 92h1v1h-1zM136 93h1v1h-1zM137 94h1v1h-1zM138 95h1v1h-1zM139 96h1v1h-1zM139 97h1v1h-1zM140 98h1v1h-1zM141 99h1v1h-1zM142 100h1v1h-1zM143 101h1v1h-1zM143 102h1v1h-1zM144 103h1v1h-1zM145 104h1v1h-1zM146 105h1v1h-1zM147 106h1v1h-1zM148 107h1v1h-1zM149 108h1v1h-1zM150 109h1v1h-1zM151 110h1v1h-1zM152 111h1v1h-1zM153 112h1v1h-1zM154 113h1v1h-1zM155 114h1v1h-1zM156 115h1v1h-1zM157 116h1v1h-1zM158 117h1v1h-1zM159 118h1v1h-1zM160 119h1v1h-1zM161 120h1v1h-1zM162 121h1v1h-1zM163 122h1v1h-1zM164 123h1v1h-1zM165 124h1v1h-1zM166 125h1v1h-1zM167 126h1v1h-1zM168 127h1v1h-1zM168 128h1v1h-1zM169 129h1v1h-1zM170 130h1v1h-1zM171 131h1v1h-1zM172 132h1v1h-1zM172 133h1v1h-1zM173 134h1v1h-1zM174 135h1v1h-1zM175 136h1v1h-1zM176 137h1v1h-1zM177 138h1v1h-1zM178 139h1v1h-1zM179 140h1v1h-1zM180 141h1v1h-1zM181 142h1v1h-1zM182 143h1v1h-1zM183 144h1v1h-1zM184 145h1v1h-1zM185 146h1v1h-1zM186 147h1v1h-1zM187 148h1v1h-1zM188 149h2v1h-2zM190 150h1v1h-1zM191 151h1v1h-1zM192 152h1v1h-1zM193 153h1v1h-1zM194 154h1v1h-1zM195 155h1v1h-1zM196 156h1v1h-1zM197 157h1v1h-1zM198 158h1v1h-1zM199 159h1v1h-1zM200 160h1v1h-1zM201 161h1v1h-1zM202 162h1v1h-1zM203 163h1v1h-1zM204 164h1v1h-1zM204 165h1v1h-1zM205 166h1v1h-1zM206 167h1v1h-1zM207 168h1v1h-1zM208 169h1v1h-1zM208 170h1v1h-1zM209 171h1v1h-1zM210 172h1v1h-1zM211 173h1v1h-1zM212 174h1v1h-1zM212 175h1v1h-1zM213 176h1v1h-1zM214 177h1v1h-1zM215 178h1v1h-1zM216 179h1v1h-1zM217 180h1v1h-1zM218 181h1v1h-1zM219 182h1v1h-1zM220 183h1v1h-1zM221 184h1v1h-1zM222 185h1v1h-1zM223 186h1v1h-1zM224 187h1v1h-1zM225 188h1v1h-1zM226 189h1v1h-1zM227 190h1v1h-1zM228 191h1v1h-1zM229 192h1v1h-1zM230 193h1v1h-1zM231 194h1v1h-1zM232 195h1v1h-1zM233 196h1v1h-1zM233 197h1v1h-1zM234 198h1v1h-1zM235 199h1v1h-1zM236 200h1v1h-1zM237 201h1v1h-1zM238 202h1v1h-1zM239 203h1v1h-1zM240 204h1v1h-1zM241 205h1v1h-1zM242 206h1v1h-1zM243 207h1v1h-1zM243 208h1v1h-1zM244 209h1v1h-1zM245 210h1v1h-1zM246 211h1v1h-1zM247 212h1v1h-1zM248 213h1v1h-1zM249 214h1v1h-1zM250 215h1v1h-1zM251 216h1v1h-1zM252 217h1v1h-1zM253 218h1v1h-1zM254 219h1v1h-1zM255 220h1v1h-1zM256 221h1v1h-1zM257 222h1v1h-1zM258 223h1v1h-1zM259 224h1v1h-1zM260 225h1v1h-1zM261 226h1v1h-1zM262 227h1v1h-1zM263 228h1v1h-1zM264 229h1v1h-1zM265 230h1v1h-1zM266 231h1v1h-1zM267 232h1v1h-1zM268 233h1v1h-1zM269 234h1v1h-1zM270 235h1v1h-1zM271 236h1v1h-1zM272 237h2v1h-2zM274 238h1v1h-1zM275 239h1v1h-1zM276 240h1v1h-1zM277 241h1v1h-1zM278 242h1v1h-1zM279 243h1v1h-1zM280 244h1v1h-1zM281 245h1v1h-1zM282 246h1v1h-1zM283 247h2v1h-2zM285 248h2v1h-2zM287 249h2v1h-2zM289 250h1v1h-1zM290 251h1v1h-1zM291 252h2v1h-2zM293 253h1v1h-1zM294 254h1v1h-1zM295 255h1v1h-1zM296 256h2v1h-2zM298 257h1v1h-1zM299 258h1v1h-1zM300 259h2v1h-2zM302 260h1v1h-1zM303 261h1v1h-1zM304 262h2v1h-2zM306 263h1v1h-1zM307 264h1v1h-1zM308 265h1v1h-1zM309 266h1v1h-1zM310 267h1v1h-1zM311 268h2v1h-2zM313 269h1v1h-1zM314 270h1v1h-1zM315 271h1v1h-1zM316 272h2v1h-2zM318 273h1v1h-1zM319 274h1v1h-1zM320 275h1v1h-1zM321 276h2v1h-2zM323 277h1v1h-1zM324 278h1v1h-1zM325 279h1v1h-1zM326 280h2v1h-2zM328 281h1v1h-1zM329 282h3v1h-3zM332 283h3v1h-3zM335 284h5v1h-5zM340 285h4v1h-4zM344 286h3v1h-3zM347 287h6v1h-6zM353 288h3v1h-3zM356 289h13v1h-13zM369 290h4v1h-4zM526 290h1v1h-1zM373 291h3v1h-3zM521 291h5v1h-5zM376 292h3v1h-3zM517 292h4v1h-4zM379 293h2v1h-2zM515 293h2v1h-2zM381 294h1v1h-1zM512 294h3v1h-3zM382 295h3v1h-3zM509 295h3v1h-3zM385 296h3v1h-3zM506 296h3v1h-3zM388 297h3v1h-3zM500 297h6v1h-6zM391 298h2v1h-2zM496 298h4v1h-4zM393 299h3v1h-3zM493 299h3v1h-3zM396 300h4v1h-4zM439 300h54v1h-54zM400 301h9v1h-9zM429 301h10v1h-10zM409 302h20v1h-20z"/><path fill="#007000" d="M1 65h1v1h-1zM2 66h2v1h-2zM4 67h1v1h-1zM5 68h3v1h-3zM8 69h2v1h-2zM10 70h2v1h-2zM12 71h2v1h-2zM14 72h1v1h-1zM15 73h5v1h-5zM20 74h1v1h-1zM21 75h2v1h-2zM23 76h2v1h-2zM25 77h10v1h-10zM39 77h21v1h-21zM35 78h4v1h-4zM60 78h7v1h-7zM67 79h2v1h-2zM69 80h2v1h-2zM71 81h3v1h-3zM74 82h2v1h-2zM76 83h3v1h-3zM79 84h2v1h-2zM81 85h2v1h-2zM83 86h2v1h-2zM85 87h2v1h-2zM87 88h3v1h-3zM90 89h2v1h-2zM92 90h2v1h-2zM94 91h2v1h-2zM96 92h1v1h-1zM97 93h2v1h-2zM99 94h1v1h-1zM100 95h1v1h-1zM100 96h1v1h-1zM101 97h1v1h-1zM102 98h1v1h-1zM103 99h1v1h-1zM104 100h1v1h-1zM105 101h1v1h-1zM106 102h1v1h-1zM107 103h1v1h-1zM108 104h2v1h-2zM110 105h1v1h-1zM111 106h2v1h-2zM113 107h1v1h-1zM114 108h2v1h-2zM116 109h2v1h-2zM118 110h2v1h-2zM120 111h2v1h-2zM122 112h1v1h-1zM123 113h2v1h-2zM125 114h1v1h-1zM126 115h1v1h-1zM127 116h1v1h-1zM128 117h1v1h-1zM129 118h1v1h-1zM130 119h1v1h-1zM130 120h1v1h-1zM131 121h1v1h-1zM132 122h1v1h-1zM133 123h1v1h-1zM133 124h1v1h-1zM134 125h1v1h-1zM135 126h1v1h-1zM135 127h1v1h-1zM136 128h1v1h-1zM136 129h1v1h-1zM137 130h1v1h-1zM137 131h1v1h-1zM137 132h1v1h-1zM138 133h1v1h-1zM138 134h1v1h-1zM139 135h1v1h-1zM139 136h1v1h-1zM140 137h1v1h-1zM140 138h1v1h-1zM141 139h1v1h-1zM141 140h1v1h-1zM142 141h1v1h-1zM142 142h1v1h-1zM142 143h1v1h-1zM143 144h1v1h-1zM143 145h1v1h-1zM144 146h1v1h-1zM144 147h1v1h-1zM144 148h1v1h-1zM144 149h1v1h-1zM145 150h1v1h-1zM145 151h1v1h-1zM145 152h1v1h-1zM145 153h1v1h-1zM146 154h1v1h-1zM146 155h1v1h-1zM146 156h1v1h-1zM147 157h1v1h-1zM148 158h1v1h-1zM148 159h1v1h-1zM149 160h1v1h-1zM149 161h1v1h-1zM150 162h1v1h-1zM150 163h1v1h-1zM151 164h1v1h-1zM152 165h1v1h-1zM152 166h1v1h-1zM152 167h1v1h-1zM152 168h1v1h-1zM153 169h1v1h-1zM153 170h1v1h-1zM153 171h1v1h-1zM153 172h1v1h-1zM154 173h1v1h-1zM154 174h1v1h-1zM155 175h1v1h-1zM155 176h1v1h-1zM156 177h1v1h-1zM156 178h1v1h-1zM156 179h1v1h-1zM157 180h1v1h-1zM157 181h1v1h-1zM158 182h1v1h-1zM158 183h1v1h-1zM158 184h1v1h-1zM159 185h1v1h-1zM159 186h1v1h-1zM160 187h1v1h-1zM160 188h1v1h-1zM161 189h1v1h-1zM162 190h1v1h-1zM162 191h1v1h-1zM163 192h1v1h-1zM163 193h1v1h-1zM164 194h1v1h-1zM164 195h1v1h-1zM165 196h1v1h-1zM165 197h1v1h-1zM165 198h1v1h-1zM166 199h1v1h-1zM166 200h1v1h-1zM167 201h1v1h-1zM167 202h1v1h-1zM168 203h1v1h-1zM168 204h1v1h-1zM168 205h1v1h-1zM169 206h1v1h-1zM169 207h1v1h-1zM169 208h1v1h-1zM170 209h1v1h-1zM170 210h1v1h-1zM170 211h1v1h-1zM170 212h1v1h-1zM171 213h1v1h-1zM171 214h1v1h-1zM171 215h1v1h-1zM172 216h1v1h-1zM172 217h1v1h-1zM172 218h1v1h-1zM173 219h1v1h-1zM173 220h1v1h-1zM174 221h1v1h-1zM174 222h1v1h-1zM174 223h1v1h-1zM175 224h1v1h-1zM175 225h1v1h-1zM175 226h1v1h-1zM176 227h1v1h-1zM176 228h1v1h-1zM177 229h1v1h-1zM177 230h1v1h-1zM177 231h1v1h-1zM178 232h1v1h-1zM178 233h1v1h-1zM179 234h1v1h-1zM179 235h1v1h-1zM180 236h1v1h-1zM180 237h1v1h-1zM181 238h1v1h-1zM181 239h1v1h-1zM182 240h1v1h-1zM182 241h1v1h-1zM183 242h1v1h-1zM183 243h1v1h-1zM184 244h1v1h-1zM184 245h1v1h-1zM185 246h1v1h-1zM185 247h1v1h-1zM186 248h1v1h-1zM186 249h1v1h-1zM187 250h1v1h-1zM187 251h1v1h-1zM188 252h1v1h-1zM188 253h1v1h-1zM189 254h1v1h-1zM189 255h1v1h-1zM190 256h1v1h-1zM190 257h1v1h-1zM191 258h1v1h-1zM525 258h2v1h-2zM191 259h1v1h-1zM520 259h5v1h-5zM192 260h1v1h-1zM517 260h3v1h-3zM193 261h1v1h-1zM513 261h4v1h-4zM193 262h1v1h-1zM510 262h3v1h-3zM194 263h1v1h-1zM507 263h3v1h-3zM195 264h1v1h-1zM504 264h3v1h-3zM195 265h1v1h-1zM502 265h2v1h-2zM196 266h1v1h-1zM500 266h2v1h-2zM197 267h1v1h-1zM499 267h1v1h-1zM198 268h1v1h-1zM497 268h2v1h-2zM199 269h1v1h-1zM496 269h1v1h-1zM199 270h1v1h-1zM495 270h1v1h-1zM200 271h1v1h-1zM493 271h2v1h-2zM201 272h2v1h-2zM491 272h2v1h-2zM203 273h1v1h-1zM483 273h8v1h-8zM204 274h3v1h-3zM480 274h3v1h-3zM207 275h4v1h-4zM478 275h2v1h-2zM211 276h2v1h-2zM302 276h11v1h-11zM477 276h1v1h-1zM213 277h1v1h-1zM299 277h3v1h-3zM313 277h2v1h-2zM475 277h2v1h-2zM214 278h1v1h-1zM295 278h4v1h-4zM315 278h2v1h-2zM474 278h1v1h-1zM215 279h1v1h-1zM293 279h2v1h-2zM317 279h1v1h-1zM472 279h2v1h-2zM216 280h1v1h-1zM291 280h2v1h-2zM318 280h2v1h-2zM471 280h1v1h-1zM217 281h1v1h-1zM289 281h2v1h-2zM320 281h1v1h-1zM469 281h2v1h-2zM218 282h2v1h-2zM287 282h2v1h-2zM321 282h2v1h-2zM468 282h1v1h-1zM220 283h2v1h-2zM237 283h3v1h-3zM285 283h2v1h-2zM323 283h3v1h-3zM467 283h1v1h-1zM222 284h3v1h-3zM235 284h2v1h-2zM240 284h3v1h-3zM283 284h2v1h-2zM326 284h4v1h-4zM466 284h1v1h-1zM225 285h3v1h-3zM232 285h3v1h-3zM243 285h3v1h-3zM281 285h2v1h-2zM330 285h2v1h-2zM465 285h1v1h-1zM228 286h4v1h-4zM246 286h3v1h-3zM280 286h1v1h-1zM332 286h2v1h-2zM464 286h1v1h-1zM249 287h2v1h-2zM278 287h2v1h-2zM334 287h2v1h-2zM464 287h1v1h-1zM251 288h2v1h-2zM275 288h3v1h-3zM336 288h3v1h-3zM463 288h1v1h-1zM253 289h6v1h-6zM270 289h5v1h-5zM339 289h2v1h-2zM462 289h1v1h-1zM259 290h11v1h-11zM341 290h2v1h-2zM461 290h1v1h-1zM343 291h2v1h-2zM461 291h1v1h-1zM345 292h2v1h-2zM460 292h1v1h-1zM347 293h1v1h-1zM459 293h1v1h-1zM348 294h2v1h-2zM458 294h1v1h-1zM350 295h1v1h-1zM458 295h1v1h-1zM351 296h1v1h-1zM457 296h1v1h-1zM352 297h1v1h-1zM456 297h1v1h-1zM353 298h1v1h-1zM455 298h1v1h-1zM354 299h1v1h-1zM454 299h2v1h-2zM355 300h1v1h-1zM453 300h1v1h-1zM356 301h1v1h-1zM452 301h1v1h-1zM357 302h1v1h-1zM451 302h1v1h-1zM358 303h1v1h-1zM450 303h1v1h-1zM359 304h2v1h-2zM449 304h1v1h-1zM361 305h1v1h-1zM448 305h1v1h-1zM362 306h2v1h-2zM447 306h1v1h-1zM364 307h2v1h-2zM446 307h1v1h-1zM366 308h2v1h-2zM445 308h1v1h-1zM368 309h1v1h-1zM444 309h1v1h-1zM369 310h2v1h-2zM443 310h1v1h-1zM371 311h2v1h-2zM442 311h1v1h-1zM373 312h2v1h-2zM441 312h1v1h-1zM375 313h3v1h-3zM440 313h1v1h-1zM378 314h3v1h-3zM439 314h1v1h-1zM381 315h3v1h-3zM438 315h1v1h-1zM384 316h2v1h-2zM437 316h1v1h-1zM386 317h2v1h-2zM435 317h2v1h-2zM388 318h3v1h-3zM434 318h1v1h-1zM391 319h2v1h-2zM433 319h1v1h-1zM393 320h2v1h-2zM431 320h2v1h-2zM395 321h2v1h-2zM430 321h1v1h-1zM397 322h2v1h-2zM428 322h2v1h-2zM399 323h2v1h-2zM427 323h1v1h-1zM401 324h2v1h-2zM424 324h3v1h-3zM403 325h2v1h-2zM422 325h2v1h-2zM405 326h2v1h-2zM420 326h2v1h-2zM407 327h5v1h-5zM413 327h7v1h-7zM412 328h1v1h-1z"/><path fill="#000" d="M0 22h599v1h-599zM0 442h599v1h-599zM0 22h1v421h-1zM598 22h1v421h-1z"/>
<path fill="#000" d="M160 4h1v1h-1zM165 4h2v1h-2zM31 5h1v1h-1zM56 5h1v1h-1zM60 5h1v1h-1zM108 5h1v1h-1zM112 5h1v1h-1zM122 5h2v1h-2zM126 5h1v1h-1zM147 5h1v1h-1zM151 5h1v1h-1zM159 5h1v1h-1zM163 5h6v1h-6zM17 6h8v1h-8zM31 6h1v1h-1zM34 6h6v1h-6zM42 6h11v1h-11zM56 6h1v1h-1zM60 6h6v1h-6zM71 6h1v1h-1zM76 6h8v1h-8zM89 6h9v1h-9zM105 6h4v1h-4zM111 6h4v1h-4zM118 6h5v1h-5zM126 6h1v1h-1zM132 6h11v1h-11zM147 6h1v1h-1zM151 6h6v1h-6zM158 6h2v1h-2zM161 6h1v1h-1zM163 6h1v1h-1zM168 6h1v1h-1zM3 7h9v1h-9zM17 7h1v1h-1zM24 7h1v1h-1zM29 7h2v1h-2zM32 7h3v1h-3zM38 7h1v1h-1zM47 7h1v1h-1zM55 7h4v1h-4zM60 7h1v1h-1zM65 7h1v1h-1zM70 7h1v1h-1zM76 7h1v1h-1zM83 7h1v1h-1zM89 7h1v1h-1zM97 7h1v1h-1zM104 7h1v1h-1zM107 7h1v1h-1zM110 7h1v1h-1zM114 7h1v1h-1zM121 7h1v1h-1zM126 7h1v1h-1zM137 7h1v1h-1zM146 7h4v1h-4zM151 7h1v1h-1zM156 7h1v1h-1zM159 7h2v1h-2zM163 7h6v1h-6zM3 8h9v1h-9zM17 8h1v1h-1zM24 8h1v1h-1zM30 8h1v1h-1zM32 8h1v1h-1zM35 8h1v1h-1zM37 8h1v1h-1zM43 8h1v1h-1zM47 8h1v1h-1zM51 8h1v1h-1zM56 8h1v1h-1zM59 8h1v1h-1zM65 8h1v1h-1zM70 8h1v1h-1zM76 8h1v1h-1zM83 8h1v1h-1zM89 8h1v1h-1zM97 8h1v1h-1zM104 8h1v1h-1zM107 8h1v1h-1zM109 8h3v1h-3zM113 8h1v1h-1zM118 8h11v1h-11zM133 8h1v1h-1zM137 8h1v1h-1zM141 8h1v1h-1zM147 8h1v1h-1zM150 8h1v1h-1zM156 8h1v1h-1zM160 8h2v1h-2zM163 8h1v1h-1zM168 8h1v1h-1zM3 9h9v1h-9zM17 9h1v1h-1zM24 9h1v1h-1zM30 9h3v1h-3zM36 9h1v1h-1zM44 9h1v1h-1zM47 9h1v1h-1zM50 9h1v1h-1zM56 9h1v1h-1zM60 9h4v1h-4zM65 9h1v1h-1zM69 9h1v1h-1zM76 9h1v1h-1zM83 9h1v1h-1zM89 9h1v1h-1zM97 9h1v1h-1zM103 9h1v1h-1zM105 9h4v1h-4zM112 9h1v1h-1zM118 9h6v1h-6zM126 9h1v1h-1zM128 9h1v1h-1zM134 9h1v1h-1zM137 9h1v1h-1zM140 9h1v1h-1zM147 9h1v1h-1zM151 9h4v1h-4zM156 9h1v1h-1zM159 9h1v1h-1zM162 9h7v1h-7zM3 10h9v1h-9zM17 10h1v1h-1zM24 10h1v1h-1zM30 10h1v1h-1zM33 10h1v1h-1zM35 10h1v1h-1zM37 10h2v1h-2zM44 10h1v1h-1zM47 10h1v1h-1zM50 10h1v1h-1zM56 10h1v1h-1zM65 10h1v1h-1zM69 10h1v1h-1zM76 10h1v1h-1zM83 10h1v1h-1zM89 10h9v1h-9zM103 10h1v1h-1zM107 10h1v1h-1zM111 10h1v1h-1zM113 10h1v1h-1zM118 10h1v1h-1zM121 10h1v1h-1zM123 10h1v1h-1zM126 10h1v1h-1zM128 10h1v1h-1zM134 10h1v1h-1zM137 10h1v1h-1zM140 10h1v1h-1zM147 10h1v1h-1zM156 10h1v1h-1zM158 10h5v1h-5zM166 10h1v1h-1zM3 11h9v1h-9zM17 11h8v1h-8zM29 11h6v1h-6zM36 11h1v1h-1zM39 11h1v1h-1zM47 11h1v1h-1zM56 11h1v1h-1zM65 11h1v1h-1zM68 11h1v1h-1zM76 11h8v1h-8zM90 11h1v1h-1zM93 11h1v1h-1zM102 11h1v1h-1zM106 11h5v1h-5zM112 11h4v1h-4zM118 11h6v1h-6zM126 11h1v1h-1zM128 11h1v1h-1zM137 11h1v1h-1zM147 11h1v1h-1zM156 11h1v1h-1zM160 11h2v1h-2zM163 11h4v1h-4zM168 11h1v1h-1zM3 12h9v1h-9zM17 12h1v1h-1zM24 12h1v1h-1zM31 12h1v1h-1zM36 12h1v1h-1zM42 12h11v1h-11zM56 12h3v1h-3zM61 12h3v1h-3zM65 12h1v1h-1zM68 12h1v1h-1zM76 12h1v1h-1zM83 12h1v1h-1zM89 12h1v1h-1zM93 12h5v1h-5zM102 12h1v1h-1zM106 12h3v1h-3zM111 12h1v1h-1zM114 12h1v1h-1zM118 12h6v1h-6zM126 12h1v1h-1zM128 12h1v1h-1zM132 12h11v1h-11zM147 12h3v1h-3zM152 12h3v1h-3zM156 12h1v1h-1zM158 12h1v1h-1zM160 12h1v1h-1zM162 12h1v1h-1zM164 12h1v1h-1zM166 12h2v1h-2zM3 13h9v1h-9zM17 13h1v1h-1zM24 13h1v1h-1zM29 13h1v1h-1zM31 13h1v1h-1zM33 13h7v1h-7zM47 13h1v1h-1zM55 13h2v1h-2zM60 13h1v1h-1zM65 13h1v1h-1zM67 13h1v1h-1zM76 13h1v1h-1zM83 13h1v1h-1zM89 13h1v1h-1zM93 13h1v1h-1zM101 13h1v1h-1zM105 13h1v1h-1zM107 13h1v1h-1zM110 13h3v1h-3zM114 13h1v1h-1zM118 13h6v1h-6zM125 13h1v1h-1zM128 13h1v1h-1zM137 13h1v1h-1zM146 13h2v1h-2zM151 13h1v1h-1zM156 13h1v1h-1zM158 13h1v1h-1zM160 13h1v1h-1zM162 13h1v1h-1zM164 13h1v1h-1zM166 13h1v1h-1zM168 13h1v1h-1zM3 14h9v1h-9zM17 14h1v1h-1zM24 14h1v1h-1zM29 14h1v1h-1zM31 14h1v1h-1zM33 14h1v1h-1zM36 14h1v1h-1zM47 14h1v1h-1zM65 14h1v1h-1zM67 14h1v1h-1zM76 14h1v1h-1zM83 14h1v1h-1zM89 14h2v1h-2zM93 14h1v1h-1zM101 14h1v1h-1zM107 14h1v1h-1zM112 14h2v1h-2zM121 14h1v1h-1zM125 14h1v1h-1zM128 14h1v1h-1zM137 14h1v1h-1zM156 14h1v1h-1zM158 14h1v1h-1zM160 14h1v1h-1zM163 14h1v1h-1zM166 14h1v1h-1zM169 14h1v1h-1zM3 15h9v1h-9zM17 15h1v1h-1zM24 15h1v1h-1zM29 15h1v1h-1zM31 15h1v1h-1zM34 15h6v1h-6zM47 15h1v1h-1zM62 15h5v1h-5zM76 15h1v1h-1zM83 15h1v1h-1zM88 15h1v1h-1zM91 15h8v1h-8zM100 15h1v1h-1zM107 15h1v1h-1zM111 15h2v1h-2zM118 15h7v1h-7zM126 15h2v1h-2zM137 15h1v1h-1zM153 15h4v1h-4zM160 15h1v1h-1zM164 15h3v1h-3zM17 16h8v1h-8zM31 16h1v1h-1zM47 16h1v1h-1zM66 16h1v1h-1zM76 16h8v1h-8zM100 16h1v1h-1zM107 16h1v1h-1zM109 16h2v1h-2zM137 16h1v1h-1z"/>
<path d="M404 159L383 177L437 159Z" transform="translate(2,2.6)" fill="#bcbcbc" shape-rendering="auto"/><path fill="rgba(110,110,110,0.45)" d="M514 108h1v54h-1zM386 162h128v1h-128z"/><path fill="#c4c4c4" d="M513 108h1v54h-1zM385 161h129v1h-129z"/><path d="M383 105H512V160H437L383 177L404 160H383Z" fill="url(#gp)" shape-rendering="auto"/><polyline points="437,160 512,160 512,105 383,105 383,160 404,160" fill="none" stroke="#ff6a78" stroke-width="2" shape-rendering="crispEdges"/><polyline points="403.5,160 383,177 437.5,160" fill="none" stroke="#ff5060" stroke-width="1.35" stroke-linejoin="miter" shape-rendering="auto"/><path fill="#000" d="M480 115h1v1h-1zM485 115h2v1h-2zM430 116h1v1h-1zM434 116h1v1h-1zM444 116h2v1h-2zM448 116h1v1h-1zM466 116h1v1h-1zM470 116h1v1h-1zM479 116h1v1h-1zM483 116h6v1h-6zM415 117h8v1h-8zM427 117h4v1h-4zM433 117h4v1h-4zM440 117h5v1h-5zM448 117h1v1h-1zM452 117h11v1h-11zM466 117h1v1h-1zM470 117h6v1h-6zM478 117h2v1h-2zM481 117h1v1h-1zM483 117h1v1h-1zM488 117h1v1h-1zM393 118h3v1h-3zM400 118h3v1h-3zM407 118h3v1h-3zM415 118h1v1h-1zM422 118h1v1h-1zM429 118h1v1h-1zM432 118h1v1h-1zM436 118h1v1h-1zM443 118h1v1h-1zM448 118h1v1h-1zM457 118h1v1h-1zM465 118h4v1h-4zM470 118h1v1h-1zM475 118h1v1h-1zM479 118h2v1h-2zM483 118h6v1h-6zM392 119h1v1h-1zM396 119h1v1h-1zM399 119h1v1h-1zM403 119h1v1h-1zM406 119h1v1h-1zM410 119h1v1h-1zM415 119h1v1h-1zM422 119h1v1h-1zM429 119h1v1h-1zM431 119h3v1h-3zM435 119h1v1h-1zM440 119h11v1h-11zM453 119h1v1h-1zM457 119h1v1h-1zM461 119h1v1h-1zM466 119h1v1h-1zM469 119h1v1h-1zM475 119h1v1h-1zM480 119h2v1h-2zM483 119h1v1h-1zM488 119h1v1h-1zM396 120h1v1h-1zM399 120h1v1h-1zM403 120h1v1h-1zM406 120h1v1h-1zM410 120h1v1h-1zM415 120h1v1h-1zM422 120h1v1h-1zM427 120h4v1h-4zM434 120h1v1h-1zM440 120h6v1h-6zM448 120h1v1h-1zM450 120h1v1h-1zM454 120h1v1h-1zM457 120h1v1h-1zM460 120h1v1h-1zM466 120h1v1h-1zM470 120h4v1h-4zM475 120h1v1h-1zM479 120h1v1h-1zM482 120h7v1h-7zM395 121h1v1h-1zM399 121h1v1h-1zM403 121h1v1h-1zM406 121h1v1h-1zM410 121h1v1h-1zM415 121h1v1h-1zM422 121h1v1h-1zM429 121h1v1h-1zM433 121h1v1h-1zM435 121h1v1h-1zM440 121h1v1h-1zM443 121h1v1h-1zM445 121h1v1h-1zM448 121h1v1h-1zM450 121h1v1h-1zM454 121h1v1h-1zM457 121h1v1h-1zM460 121h1v1h-1zM466 121h1v1h-1zM475 121h1v1h-1zM478 121h5v1h-5zM486 121h1v1h-1zM394 122h1v1h-1zM399 122h1v1h-1zM403 122h1v1h-1zM406 122h1v1h-1zM410 122h1v1h-1zM415 122h8v1h-8zM428 122h5v1h-5zM434 122h4v1h-4zM440 122h6v1h-6zM448 122h1v1h-1zM450 122h1v1h-1zM457 122h1v1h-1zM466 122h1v1h-1zM475 122h1v1h-1zM480 122h2v1h-2zM483 122h4v1h-4zM488 122h1v1h-1zM393 123h1v1h-1zM399 123h1v1h-1zM403 123h1v1h-1zM406 123h1v1h-1zM410 123h1v1h-1zM415 123h1v1h-1zM422 123h1v1h-1zM428 123h3v1h-3zM433 123h1v1h-1zM436 123h1v1h-1zM440 123h6v1h-6zM448 123h1v1h-1zM450 123h1v1h-1zM452 123h11v1h-11zM466 123h3v1h-3zM471 123h3v1h-3zM475 123h1v1h-1zM478 123h1v1h-1zM480 123h1v1h-1zM482 123h1v1h-1zM484 123h1v1h-1zM486 123h2v1h-2zM392 124h1v1h-1zM399 124h1v1h-1zM403 124h1v1h-1zM406 124h1v1h-1zM410 124h1v1h-1zM415 124h1v1h-1zM422 124h1v1h-1zM427 124h1v1h-1zM429 124h1v1h-1zM432 124h3v1h-3zM436 124h1v1h-1zM440 124h6v1h-6zM447 124h1v1h-1zM450 124h1v1h-1zM457 124h1v1h-1zM465 124h2v1h-2zM470 124h1v1h-1zM475 124h1v1h-1zM478 124h1v1h-1zM480 124h1v1h-1zM482 124h1v1h-1zM484 124h1v1h-1zM486 124h1v1h-1zM488 124h1v1h-1zM392 125h1v1h-1zM399 125h1v1h-1zM403 125h1v1h-1zM406 125h1v1h-1zM410 125h1v1h-1zM415 125h1v1h-1zM422 125h1v1h-1zM429 125h1v1h-1zM434 125h2v1h-2zM443 125h1v1h-1zM447 125h1v1h-1zM450 125h1v1h-1zM457 125h1v1h-1zM475 125h1v1h-1zM478 125h1v1h-1zM480 125h1v1h-1zM483 125h1v1h-1zM486 125h1v1h-1zM489 125h1v1h-1zM392 126h5v1h-5zM400 126h3v1h-3zM407 126h3v1h-3zM415 126h1v1h-1zM422 126h1v1h-1zM429 126h1v1h-1zM433 126h2v1h-2zM440 126h7v1h-7zM448 126h2v1h-2zM457 126h1v1h-1zM472 126h4v1h-4zM480 126h1v1h-1zM484 126h3v1h-3zM415 127h8v1h-8zM429 127h1v1h-1zM431 127h2v1h-2zM457 127h1v1h-1zM420 132h1v1h-1zM428 132h1v1h-1zM435 132h1v1h-1zM442 132h1v1h-1zM447 132h1v1h-1zM470 132h1v1h-1zM396 133h1v1h-1zM405 133h1v1h-1zM415 133h1v1h-1zM420 133h1v1h-1zM428 133h1v1h-1zM430 133h6v1h-6zM442 133h1v1h-1zM447 133h1v1h-1zM469 133h1v1h-1zM471 133h2v1h-2zM482 133h1v1h-1zM395 134h1v1h-1zM405 134h1v1h-1zM414 134h1v1h-1zM416 134h8v1h-8zM428 134h1v1h-1zM430 134h1v1h-1zM433 134h1v1h-1zM442 134h1v1h-1zM444 134h7v1h-7zM453 134h7v1h-7zM468 134h1v1h-1zM472 134h2v1h-2zM479 134h1v1h-1zM483 134h1v1h-1zM394 135h1v1h-1zM405 135h1v1h-1zM414 135h1v1h-1zM419 135h1v1h-1zM426 135h5v1h-5zM433 135h2v1h-2zM440 135h4v1h-4zM467 135h2v1h-2zM479 135h1v1h-1zM484 135h1v1h-1zM394 136h1v1h-1zM405 136h5v1h-5zM414 136h1v1h-1zM416 136h1v1h-1zM418 136h5v1h-5zM428 136h1v1h-1zM430 136h1v1h-1zM433 136h2v1h-2zM442 136h1v1h-1zM465 136h2v1h-2zM468 136h1v1h-1zM478 136h2v1h-2zM484 136h1v1h-1zM393 137h1v1h-1zM405 137h1v1h-1zM413 137h2v1h-2zM416 137h1v1h-1zM418 137h5v1h-5zM428 137h1v1h-1zM430 137h7v1h-7zM442 137h1v1h-1zM445 137h4v1h-4zM452 137h9v1h-9zM463 137h2v1h-2zM468 137h1v1h-1zM477 137h2v1h-2zM485 137h1v1h-1zM393 138h1v1h-1zM405 138h1v1h-1zM412 138h1v1h-1zM414 138h1v1h-1zM416 138h1v1h-1zM418 138h1v1h-1zM422 138h1v1h-1zM428 138h3v1h-3zM434 138h1v1h-1zM442 138h1v1h-1zM445 138h1v1h-1zM448 138h1v1h-1zM460 138h1v1h-1zM468 138h1v1h-1zM476 138h2v1h-2zM485 138h1v1h-1zM393 139h1v1h-1zM405 139h1v1h-1zM414 139h1v1h-1zM416 139h1v1h-1zM418 139h5v1h-5zM426 139h3v1h-3zM430 139h1v1h-1zM434 139h1v1h-1zM440 139h4v1h-4zM445 139h1v1h-1zM448 139h1v1h-1zM459 139h1v1h-1zM468 139h1v1h-1zM475 139h2v1h-2zM485 139h1v1h-1zM394 140h1v1h-1zM405 140h1v1h-1zM414 140h1v1h-1zM416 140h1v1h-1zM418 140h1v1h-1zM422 140h1v1h-1zM428 140h1v1h-1zM430 140h1v1h-1zM434 140h1v1h-1zM442 140h1v1h-1zM445 140h1v1h-1zM448 140h1v1h-1zM459 140h1v1h-1zM468 140h1v1h-1zM472 140h3v1h-3zM484 140h1v1h-1zM394 141h1v1h-1zM405 141h1v1h-1zM414 141h1v1h-1zM416 141h1v1h-1zM418 141h5v1h-5zM428 141h1v1h-1zM430 141h3v1h-3zM434 141h1v1h-1zM436 141h1v1h-1zM442 141h1v1h-1zM445 141h1v1h-1zM448 141h1v1h-1zM450 141h1v1h-1zM458 141h1v1h-1zM468 141h1v1h-1zM472 141h1v1h-1zM484 141h1v1h-1zM395 142h1v1h-1zM400 142h11v1h-11zM414 142h1v1h-1zM416 142h8v1h-8zM428 142h1v1h-1zM430 142h1v1h-1zM435 142h2v1h-2zM442 142h1v1h-1zM444 142h1v1h-1zM448 142h1v1h-1zM450 142h1v1h-1zM456 142h2v1h-2zM483 142h1v1h-1zM396 143h1v1h-1zM414 143h1v1h-1zM416 143h1v1h-1zM426 143h3v1h-3zM430 143h7v1h-7zM440 143h3v1h-3zM444 143h1v1h-1zM448 143h3v1h-3zM454 143h2v1h-2zM482 143h1v1h-1z"/>
<path fill="rgba(110,110,110,0.45)" d="M488 361h1v53h-1zM363 414h125v1h-125z"/><path fill="#c4c4c4" d="M487 361h1v53h-1zM362 413h126v1h-126z"/><rect x="360" y="358" width="126" height="54" fill="url(#gb)" stroke="#6262ff" stroke-width="2" shape-rendering="crispEdges"/><path d="M433 359.2L441 313L466 359.2Z" fill="url(#gt)" shape-rendering="auto"/><polyline points="433.5,358 441,313 465.5,358" fill="none" stroke="#5050ff" stroke-width="1.35" stroke-linejoin="miter" shape-rendering="auto"/><path fill="#000" d="M450 368h1v1h-1zM455 368h2v1h-2zM400 369h1v1h-1zM404 369h1v1h-1zM414 369h2v1h-2zM418 369h1v1h-1zM436 369h1v1h-1zM440 369h1v1h-1zM449 369h1v1h-1zM453 369h6v1h-6zM385 370h8v1h-8zM397 370h4v1h-4zM403 370h4v1h-4zM410 370h5v1h-5zM418 370h1v1h-1zM422 370h11v1h-11zM436 370h1v1h-1zM440 370h6v1h-6zM448 370h2v1h-2zM451 370h1v1h-1zM453 370h1v1h-1zM458 370h1v1h-1zM370 371h3v1h-3zM376 371h5v1h-5zM385 371h1v1h-1zM392 371h1v1h-1zM399 371h1v1h-1zM402 371h1v1h-1zM406 371h1v1h-1zM413 371h1v1h-1zM418 371h1v1h-1zM427 371h1v1h-1zM435 371h4v1h-4zM440 371h1v1h-1zM445 371h1v1h-1zM449 371h2v1h-2zM453 371h6v1h-6zM369 372h1v1h-1zM373 372h1v1h-1zM376 372h1v1h-1zM385 372h1v1h-1zM392 372h1v1h-1zM399 372h1v1h-1zM401 372h3v1h-3zM405 372h1v1h-1zM410 372h11v1h-11zM423 372h1v1h-1zM427 372h1v1h-1zM431 372h1v1h-1zM436 372h1v1h-1zM439 372h1v1h-1zM445 372h1v1h-1zM450 372h2v1h-2zM453 372h1v1h-1zM458 372h1v1h-1zM373 373h1v1h-1zM376 373h1v1h-1zM385 373h1v1h-1zM392 373h1v1h-1zM397 373h4v1h-4zM404 373h1v1h-1zM410 373h6v1h-6zM418 373h1v1h-1zM420 373h1v1h-1zM424 373h1v1h-1zM427 373h1v1h-1zM430 373h1v1h-1zM436 373h1v1h-1zM440 373h4v1h-4zM445 373h1v1h-1zM449 373h1v1h-1zM452 373h7v1h-7zM372 374h1v1h-1zM376 374h4v1h-4zM385 374h1v1h-1zM392 374h1v1h-1zM399 374h1v1h-1zM403 374h1v1h-1zM405 374h1v1h-1zM410 374h1v1h-1zM413 374h1v1h-1zM415 374h1v1h-1zM418 374h1v1h-1zM420 374h1v1h-1zM424 374h1v1h-1zM427 374h1v1h-1zM430 374h1v1h-1zM436 374h1v1h-1zM445 374h1v1h-1zM448 374h5v1h-5zM456 374h1v1h-1zM371 375h1v1h-1zM380 375h1v1h-1zM385 375h8v1h-8zM398 375h5v1h-5zM404 375h4v1h-4zM410 375h6v1h-6zM418 375h1v1h-1zM420 375h1v1h-1zM427 375h1v1h-1zM436 375h1v1h-1zM445 375h1v1h-1zM450 375h2v1h-2zM453 375h4v1h-4zM458 375h1v1h-1zM370 376h1v1h-1zM380 376h1v1h-1zM385 376h1v1h-1zM392 376h1v1h-1zM398 376h3v1h-3zM403 376h1v1h-1zM406 376h1v1h-1zM410 376h6v1h-6zM418 376h1v1h-1zM420 376h1v1h-1zM422 376h11v1h-11zM436 376h3v1h-3zM441 376h3v1h-3zM445 376h1v1h-1zM448 376h1v1h-1zM450 376h1v1h-1zM452 376h1v1h-1zM454 376h1v1h-1zM456 376h2v1h-2zM369 377h1v1h-1zM380 377h1v1h-1zM385 377h1v1h-1zM392 377h1v1h-1zM397 377h1v1h-1zM399 377h1v1h-1zM402 377h3v1h-3zM406 377h1v1h-1zM410 377h6v1h-6zM417 377h1v1h-1zM420 377h1v1h-1zM427 377h1v1h-1zM435 377h2v1h-2zM440 377h1v1h-1zM445 377h1v1h-1zM448 377h1v1h-1zM450 377h1v1h-1zM452 377h1v1h-1zM454 377h1v1h-1zM456 377h1v1h-1zM458 377h1v1h-1zM369 378h1v1h-1zM376 378h1v1h-1zM380 378h1v1h-1zM385 378h1v1h-1zM392 378h1v1h-1zM399 378h1v1h-1zM404 378h2v1h-2zM413 378h1v1h-1zM417 378h1v1h-1zM420 378h1v1h-1zM427 378h1v1h-1zM445 378h1v1h-1zM448 378h1v1h-1zM450 378h1v1h-1zM453 378h1v1h-1zM456 378h1v1h-1zM459 378h1v1h-1zM369 379h5v1h-5zM377 379h3v1h-3zM385 379h1v1h-1zM392 379h1v1h-1zM399 379h1v1h-1zM403 379h2v1h-2zM410 379h7v1h-7zM418 379h2v1h-2zM427 379h1v1h-1zM442 379h4v1h-4zM450 379h1v1h-1zM454 379h3v1h-3zM385 380h8v1h-8zM399 380h1v1h-1zM401 380h2v1h-2zM427 380h1v1h-1zM398 385h1v1h-1zM405 385h1v1h-1zM412 385h1v1h-1zM418 385h1v1h-1zM423 385h1v1h-1zM447 385h1v1h-1zM373 386h1v1h-1zM377 386h11v1h-11zM393 386h1v1h-1zM398 386h1v1h-1zM405 386h1v1h-1zM407 386h6v1h-6zM418 386h1v1h-1zM423 386h1v1h-1zM446 386h1v1h-1zM448 386h2v1h-2zM459 386h1v1h-1zM372 387h1v1h-1zM382 387h1v1h-1zM392 387h1v1h-1zM394 387h8v1h-8zM405 387h1v1h-1zM407 387h1v1h-1zM410 387h1v1h-1zM418 387h1v1h-1zM420 387h7v1h-7zM431 387h7v1h-7zM445 387h1v1h-1zM449 387h2v1h-2zM456 387h1v1h-1zM460 387h1v1h-1zM371 388h1v1h-1zM382 388h1v1h-1zM392 388h1v1h-1zM397 388h1v1h-1zM403 388h5v1h-5zM410 388h2v1h-2zM416 388h4v1h-4zM444 388h2v1h-2zM456 388h1v1h-1zM461 388h1v1h-1zM371 389h1v1h-1zM382 389h2v1h-2zM392 389h1v1h-1zM394 389h1v1h-1zM396 389h5v1h-5zM405 389h1v1h-1zM407 389h1v1h-1zM410 389h2v1h-2zM418 389h1v1h-1zM442 389h2v1h-2zM445 389h1v1h-1zM455 389h2v1h-2zM461 389h1v1h-1zM370 390h1v1h-1zM382 390h1v1h-1zM384 390h1v1h-1zM391 390h2v1h-2zM394 390h1v1h-1zM396 390h5v1h-5zM405 390h1v1h-1zM407 390h7v1h-7zM418 390h1v1h-1zM421 390h4v1h-4zM430 390h9v1h-9zM440 390h2v1h-2zM445 390h1v1h-1zM454 390h2v1h-2zM462 390h1v1h-1zM370 391h1v1h-1zM382 391h1v1h-1zM385 391h2v1h-2zM390 391h1v1h-1zM392 391h1v1h-1zM394 391h1v1h-1zM396 391h1v1h-1zM400 391h1v1h-1zM405 391h3v1h-3zM411 391h1v1h-1zM418 391h1v1h-1zM421 391h1v1h-1zM424 391h1v1h-1zM438 391h1v1h-1zM445 391h1v1h-1zM453 391h2v1h-2zM462 391h1v1h-1zM370 392h1v1h-1zM382 392h1v1h-1zM386 392h1v1h-1zM392 392h1v1h-1zM394 392h1v1h-1zM396 392h5v1h-5zM403 392h3v1h-3zM407 392h1v1h-1zM411 392h1v1h-1zM416 392h4v1h-4zM421 392h1v1h-1zM424 392h1v1h-1zM437 392h1v1h-1zM445 392h1v1h-1zM452 392h2v1h-2zM462 392h1v1h-1zM371 393h1v1h-1zM382 393h1v1h-1zM392 393h1v1h-1zM394 393h1v1h-1zM396 393h1v1h-1zM400 393h1v1h-1zM405 393h1v1h-1zM407 393h1v1h-1zM411 393h1v1h-1zM418 393h1v1h-1zM421 393h1v1h-1zM424 393h1v1h-1zM437 393h1v1h-1zM445 393h1v1h-1zM449 393h3v1h-3zM461 393h1v1h-1zM371 394h1v1h-1zM382 394h1v1h-1zM392 394h1v1h-1zM394 394h1v1h-1zM396 394h5v1h-5zM405 394h1v1h-1zM407 394h3v1h-3zM411 394h1v1h-1zM413 394h1v1h-1zM418 394h1v1h-1zM421 394h1v1h-1zM424 394h1v1h-1zM426 394h1v1h-1zM436 394h1v1h-1zM445 394h1v1h-1zM449 394h1v1h-1zM461 394h1v1h-1zM372 395h1v1h-1zM382 395h1v1h-1zM392 395h1v1h-1zM394 395h8v1h-8zM405 395h1v1h-1zM407 395h1v1h-1zM412 395h2v1h-2zM418 395h1v1h-1zM420 395h1v1h-1zM424 395h1v1h-1zM426 395h1v1h-1zM434 395h2v1h-2zM460 395h1v1h-1zM373 396h1v1h-1zM382 396h1v1h-1zM392 396h1v1h-1zM394 396h1v1h-1zM403 396h3v1h-3zM407 396h7v1h-7zM416 396h3v1h-3zM420 396h1v1h-1zM424 396h3v1h-3zM432 396h2v1h-2zM459 396h1v1h-1z"/>
<path fill="rgba(110,110,110,0.45)" d="M595 339h1v53h-1zM477 392h118v1h-118z"/><path fill="#c4c4c4" d="M594 339h1v53h-1zM476 391h119v1h-119z"/><rect x="474" y="336" width="119" height="54" fill="url(#gb)" stroke="#6262ff" stroke-width="2" shape-rendering="crispEdges"/><path d="M493 337.2L499 298L526 337.2Z" fill="url(#gt)" shape-rendering="auto"/><polyline points="493.5,336 499,298 525.5,336" fill="none" stroke="#5050ff" stroke-width="1.35" stroke-linejoin="miter" shape-rendering="auto"/><path fill="#000" d="M564 346h1v1h-1zM569 346h2v1h-2zM514 347h1v1h-1zM518 347h1v1h-1zM528 347h2v1h-2zM532 347h1v1h-1zM550 347h1v1h-1zM554 347h1v1h-1zM563 347h1v1h-1zM567 347h6v1h-6zM499 348h8v1h-8zM511 348h4v1h-4zM517 348h4v1h-4zM524 348h5v1h-5zM532 348h1v1h-1zM536 348h11v1h-11zM550 348h1v1h-1zM554 348h6v1h-6zM562 348h2v1h-2zM565 348h1v1h-1zM567 348h1v1h-1zM572 348h1v1h-1zM483 349h5v1h-5zM490 349h5v1h-5zM499 349h1v1h-1zM506 349h1v1h-1zM513 349h1v1h-1zM516 349h1v1h-1zM520 349h1v1h-1zM527 349h1v1h-1zM532 349h1v1h-1zM541 349h1v1h-1zM549 349h4v1h-4zM554 349h1v1h-1zM559 349h1v1h-1zM563 349h2v1h-2zM567 349h6v1h-6zM487 350h1v1h-1zM490 350h1v1h-1zM499 350h1v1h-1zM506 350h1v1h-1zM513 350h1v1h-1zM515 350h3v1h-3zM519 350h1v1h-1zM524 350h11v1h-11zM537 350h1v1h-1zM541 350h1v1h-1zM545 350h1v1h-1zM550 350h1v1h-1zM553 350h1v1h-1zM559 350h1v1h-1zM564 350h2v1h-2zM567 350h1v1h-1zM572 350h1v1h-1zM486 351h1v1h-1zM490 351h1v1h-1zM499 351h1v1h-1zM506 351h1v1h-1zM511 351h4v1h-4zM518 351h1v1h-1zM524 351h6v1h-6zM532 351h1v1h-1zM534 351h1v1h-1zM538 351h1v1h-1zM541 351h1v1h-1zM544 351h1v1h-1zM550 351h1v1h-1zM554 351h4v1h-4zM559 351h1v1h-1zM563 351h1v1h-1zM566 351h7v1h-7zM486 352h1v1h-1zM490 352h4v1h-4zM499 352h1v1h-1zM506 352h1v1h-1zM513 352h1v1h-1zM517 352h1v1h-1zM519 352h1v1h-1zM524 352h1v1h-1zM527 352h1v1h-1zM529 352h1v1h-1zM532 352h1v1h-1zM534 352h1v1h-1zM538 352h1v1h-1zM541 352h1v1h-1zM544 352h1v1h-1zM550 352h1v1h-1zM559 352h1v1h-1zM562 352h5v1h-5zM570 352h1v1h-1zM485 353h1v1h-1zM494 353h1v1h-1zM499 353h8v1h-8zM512 353h5v1h-5zM518 353h4v1h-4zM524 353h6v1h-6zM532 353h1v1h-1zM534 353h1v1h-1zM541 353h1v1h-1zM550 353h1v1h-1zM559 353h1v1h-1zM564 353h2v1h-2zM567 353h4v1h-4zM572 353h1v1h-1zM485 354h1v1h-1zM494 354h1v1h-1zM499 354h1v1h-1zM506 354h1v1h-1zM512 354h3v1h-3zM517 354h1v1h-1zM520 354h1v1h-1zM524 354h6v1h-6zM532 354h1v1h-1zM534 354h1v1h-1zM536 354h11v1h-11zM550 354h3v1h-3zM555 354h3v1h-3zM559 354h1v1h-1zM562 354h1v1h-1zM564 354h1v1h-1zM566 354h1v1h-1zM568 354h1v1h-1zM570 354h2v1h-2zM485 355h1v1h-1zM494 355h1v1h-1zM499 355h1v1h-1zM506 355h1v1h-1zM511 355h1v1h-1zM513 355h1v1h-1zM516 355h3v1h-3zM520 355h1v1h-1zM524 355h6v1h-6zM531 355h1v1h-1zM534 355h1v1h-1zM541 355h1v1h-1zM549 355h2v1h-2zM554 355h1v1h-1zM559 355h1v1h-1zM562 355h1v1h-1zM564 355h1v1h-1zM566 355h1v1h-1zM568 355h1v1h-1zM570 355h1v1h-1zM572 355h1v1h-1zM484 356h1v1h-1zM490 356h1v1h-1zM494 356h1v1h-1zM499 356h1v1h-1zM506 356h1v1h-1zM513 356h1v1h-1zM518 356h2v1h-2zM527 356h1v1h-1zM531 356h1v1h-1zM534 356h1v1h-1zM541 356h1v1h-1zM559 356h1v1h-1zM562 356h1v1h-1zM564 356h1v1h-1zM567 356h1v1h-1zM570 356h1v1h-1zM573 356h1v1h-1zM484 357h1v1h-1zM491 357h3v1h-3zM499 357h1v1h-1zM506 357h1v1h-1zM513 357h1v1h-1zM517 357h2v1h-2zM524 357h7v1h-7zM532 357h2v1h-2zM541 357h1v1h-1zM556 357h4v1h-4zM564 357h1v1h-1zM568 357h3v1h-3zM499 358h8v1h-8zM513 358h1v1h-1zM515 358h2v1h-2zM541 358h1v1h-1zM512 363h1v1h-1zM519 363h1v1h-1zM526 363h1v1h-1zM532 363h1v1h-1zM537 363h1v1h-1zM561 363h1v1h-1zM487 364h1v1h-1zM491 364h11v1h-11zM507 364h1v1h-1zM512 364h1v1h-1zM519 364h1v1h-1zM521 364h6v1h-6zM532 364h1v1h-1zM537 364h1v1h-1zM560 364h1v1h-1zM562 364h2v1h-2zM573 364h1v1h-1zM486 365h1v1h-1zM496 365h1v1h-1zM506 365h1v1h-1zM508 365h8v1h-8zM519 365h1v1h-1zM521 365h1v1h-1zM524 365h1v1h-1zM532 365h1v1h-1zM534 365h7v1h-7zM545 365h7v1h-7zM559 365h1v1h-1zM563 365h2v1h-2zM570 365h1v1h-1zM574 365h1v1h-1zM485 366h1v1h-1zM496 366h1v1h-1zM506 366h1v1h-1zM511 366h1v1h-1zM517 366h5v1h-5zM524 366h2v1h-2zM530 366h4v1h-4zM558 366h2v1h-2zM570 366h1v1h-1zM575 366h1v1h-1zM485 367h1v1h-1zM496 367h2v1h-2zM506 367h1v1h-1zM508 367h1v1h-1zM510 367h5v1h-5zM519 367h1v1h-1zM521 367h1v1h-1zM524 367h2v1h-2zM532 367h1v1h-1zM556 367h2v1h-2zM559 367h1v1h-1zM569 367h2v1h-2zM575 367h1v1h-1zM484 368h1v1h-1zM496 368h1v1h-1zM498 368h1v1h-1zM505 368h2v1h-2zM508 368h1v1h-1zM510 368h5v1h-5zM519 368h1v1h-1zM521 368h7v1h-7zM532 368h1v1h-1zM535 368h4v1h-4zM544 368h9v1h-9zM554 368h2v1h-2zM559 368h1v1h-1zM568 368h2v1h-2zM576 368h1v1h-1zM484 369h1v1h-1zM496 369h1v1h-1zM499 369h2v1h-2zM504 369h1v1h-1zM506 369h1v1h-1zM508 369h1v1h-1zM510 369h1v1h-1zM514 369h1v1h-1zM519 369h3v1h-3zM525 369h1v1h-1zM532 369h1v1h-1zM535 369h1v1h-1zM538 369h1v1h-1zM552 369h1v1h-1zM559 369h1v1h-1zM567 369h2v1h-2zM576 369h1v1h-1zM484 370h1v1h-1zM496 370h1v1h-1zM500 370h1v1h-1zM506 370h1v1h-1zM508 370h1v1h-1zM510 370h5v1h-5zM517 370h3v1h-3zM521 370h1v1h-1zM525 370h1v1h-1zM530 370h4v1h-4zM535 370h1v1h-1zM538 370h1v1h-1zM551 370h1v1h-1zM559 370h1v1h-1zM566 370h2v1h-2zM576 370h1v1h-1zM485 371h1v1h-1zM496 371h1v1h-1zM506 371h1v1h-1zM508 371h1v1h-1zM510 371h1v1h-1zM514 371h1v1h-1zM519 371h1v1h-1zM521 371h1v1h-1zM525 371h1v1h-1zM532 371h1v1h-1zM535 371h1v1h-1zM538 371h1v1h-1zM551 371h1v1h-1zM559 371h1v1h-1zM563 371h3v1h-3zM575 371h1v1h-1zM485 372h1v1h-1zM496 372h1v1h-1zM506 372h1v1h-1zM508 372h1v1h-1zM510 372h5v1h-5zM519 372h1v1h-1zM521 372h3v1h-3zM525 372h1v1h-1zM527 372h1v1h-1zM532 372h1v1h-1zM535 372h1v1h-1zM538 372h1v1h-1zM540 372h1v1h-1zM550 372h1v1h-1zM559 372h1v1h-1zM563 372h1v1h-1zM575 372h1v1h-1zM486 373h1v1h-1zM496 373h1v1h-1zM506 373h1v1h-1zM508 373h8v1h-8zM519 373h1v1h-1zM521 373h1v1h-1zM526 373h2v1h-2zM532 373h1v1h-1zM534 373h1v1h-1zM538 373h1v1h-1zM540 373h1v1h-1zM548 373h2v1h-2zM574 373h1v1h-1zM487 374h1v1h-1zM496 374h1v1h-1zM506 374h1v1h-1zM508 374h1v1h-1zM517 374h3v1h-3zM521 374h7v1h-7zM530 374h3v1h-3zM534 374h1v1h-1zM538 374h3v1h-3zM546 374h2v1h-2zM573 374h1v1h-1z"/>
</svg></body></html>
